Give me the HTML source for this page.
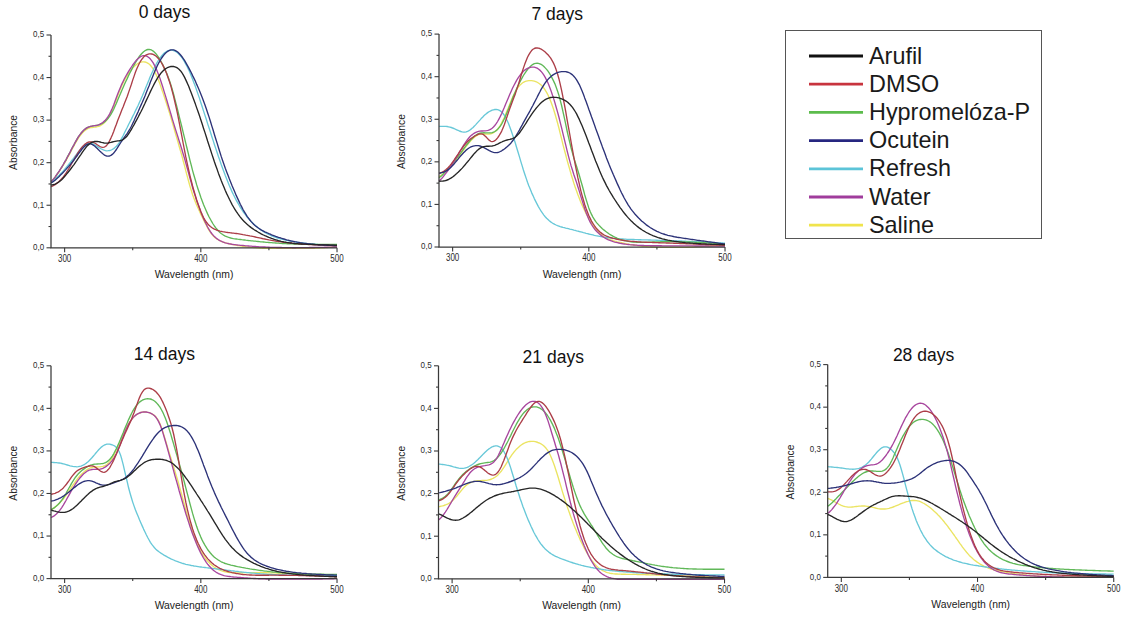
<!DOCTYPE html>
<html><head><meta charset="utf-8"><style>
html,body{margin:0;padding:0;background:#fff;}
body{width:1128px;height:620px;overflow:hidden;}
svg{display:block;font-family:"Liberation Sans", sans-serif;}
</style></head><body>
<svg width="1128" height="620" viewBox="0 0 1128 620">
<rect width="1128" height="620" fill="#fff"/>
<path d="M51.0,181.6 L52.4,180.5 L53.7,179.1 L55.1,177.4 L56.4,175.5 L57.8,173.6 L59.2,171.6 L60.5,169.5 L61.9,167.4 L63.3,165.2 L64.6,162.9 L66.0,160.6 L67.3,158.1 L68.7,155.6 L70.1,153.1 L71.4,150.5 L72.8,147.9 L74.2,145.4 L75.5,143.0 L76.9,140.6 L78.2,138.5 L79.6,136.4 L81.0,134.6 L82.3,133.0 L83.7,131.5 L85.1,130.4 L86.4,129.4 L87.8,128.6 L89.1,128.1 L90.5,127.7 L91.9,127.5 L93.2,127.3 L94.6,127.2 L95.9,127.0 L97.3,126.7 L98.7,126.3 L100.0,125.8 L101.4,125.0 L102.8,124.1 L104.1,122.9 L105.5,121.5 L106.8,119.9 L108.2,117.9 L109.6,115.5 L110.9,112.8 L112.3,109.8 L113.7,106.4 L115.0,102.9 L116.4,99.3 L117.7,95.7 L119.1,92.2 L120.5,88.8 L121.8,85.7 L123.2,82.8 L124.5,80.1 L125.9,77.6 L127.3,75.4 L128.6,73.3 L130.0,71.4 L131.4,69.6 L132.7,68.0 L134.1,66.6 L135.4,65.4 L136.8,64.3 L138.2,63.4 L139.5,62.7 L140.9,62.2 L142.3,61.9 L143.6,61.8 L145.0,62.0 L146.3,62.4 L147.7,63.1 L149.1,64.0 L150.4,65.3 L151.8,67.0 L153.2,69.0 L154.5,71.3 L155.9,74.1 L157.2,77.1 L158.6,80.5 L160.0,84.1 L161.3,88.0 L162.7,91.9 L164.0,95.9 L165.4,100.0 L166.8,104.2 L168.1,108.5 L169.5,112.9 L170.9,117.5 L172.2,122.1 L173.6,126.8 L174.9,131.5 L176.3,136.2 L177.7,141.0 L179.0,145.7 L180.4,150.5 L181.8,155.4 L183.1,160.5 L184.5,165.6 L185.8,170.9 L187.2,176.1 L188.6,181.2 L189.9,186.0 L191.3,190.5 L192.6,194.7 L194.0,198.4 L195.4,201.9 L196.7,205.2 L198.1,208.2 L199.5,211.2 L200.8,214.1 L202.2,217.0 L203.5,219.8 L204.9,222.6 L206.3,225.3 L207.6,227.9 L209.0,230.2 L210.4,232.3 L211.7,234.1 L213.1,235.7 L214.4,237.1 L215.8,238.2 L217.2,239.2 L218.5,240.0 L219.9,240.7 L221.2,241.3 L222.6,241.8 L224.0,242.3 L225.3,242.8 L226.7,243.2 L228.1,243.5 L229.4,243.9 L230.8,244.2 L232.1,244.5 L233.5,244.7 L234.9,245.0 L236.2,245.2 L237.6,245.5 L239.0,245.7 L240.3,245.9 L241.7,246.1 L243.0,246.3 L244.4,246.5 L245.8,246.7 L247.1,246.8 L248.5,247.0 L249.9,247.1 L251.2,247.3 L252.6,247.4 L253.9,247.6 L255.3,247.7 L256.7,247.8 L258.0,247.9 L259.4,248.0 L260.7,248.1 L262.1,248.2 L263.5,248.2 L264.8,248.2 L266.2,248.2 L267.6,248.2 L268.9,248.2 L270.3,248.2 L271.6,248.2 L273.0,248.2 L274.4,248.2 L275.7,248.2 L277.1,248.2 L278.5,248.2 L279.8,248.2 L281.2,248.2 L282.5,248.2 L283.9,248.2 L285.3,248.2 L286.6,248.2 L288.0,248.2 L289.4,248.2 L290.7,248.2 L292.1,248.2 L293.4,248.2 L294.8,248.2 L296.2,248.2 L297.5,248.2 L298.9,248.2 L300.2,248.2 L301.6,248.2 L303.0,248.2 L304.3,248.2 L305.7,248.2 L307.1,248.2 L308.4,248.2 L309.8,248.2 L311.1,248.2 L312.5,248.2 L313.9,248.2 L315.2,248.2 L316.6,248.1 L318.0,248.0 L319.3,248.0 L320.7,247.9 L322.0,247.8 L323.4,247.7 L324.8,247.7 L326.1,247.6 L327.5,247.5 L328.8,247.4 L330.2,247.4 L331.6,247.3 L332.9,247.2 L334.3,247.1 L335.7,247.1 L337.0,247.0" stroke="#ebe462" stroke-width="1.35" fill="none" stroke-linejoin="round"/>
<path d="M51.0,182.1 L52.4,181.3 L53.7,180.3 L55.1,179.2 L56.4,177.9 L57.8,176.6 L59.2,175.2 L60.5,173.8 L61.9,172.4 L63.3,170.9 L64.6,169.4 L66.0,167.8 L67.3,166.2 L68.7,164.5 L70.1,162.8 L71.4,161.0 L72.8,159.3 L74.2,157.5 L75.5,155.7 L76.9,153.9 L78.2,152.1 L79.6,150.4 L81.0,148.8 L82.3,147.3 L83.7,146.0 L85.1,144.9 L86.4,144.1 L87.8,143.5 L89.1,143.3 L90.5,143.3 L91.9,143.6 L93.2,144.1 L94.6,144.8 L95.9,145.6 L97.3,146.5 L98.7,147.4 L100.0,148.2 L101.4,149.0 L102.8,149.7 L104.1,150.2 L105.5,150.6 L106.8,150.8 L108.2,150.7 L109.6,150.5 L110.9,150.1 L112.3,149.5 L113.7,148.6 L115.0,147.6 L116.4,146.3 L117.7,144.7 L119.1,142.8 L120.5,140.6 L121.8,138.1 L123.2,135.5 L124.5,132.8 L125.9,130.0 L127.3,127.3 L128.6,124.5 L130.0,121.8 L131.4,119.1 L132.7,116.4 L134.1,113.7 L135.4,110.9 L136.8,108.1 L138.2,105.2 L139.5,102.3 L140.9,99.3 L142.3,96.1 L143.6,92.9 L145.0,89.6 L146.3,86.3 L147.7,82.9 L149.1,79.6 L150.4,76.3 L151.8,73.2 L153.2,70.2 L154.5,67.3 L155.9,64.7 L157.2,62.3 L158.6,60.0 L160.0,58.0 L161.3,56.3 L162.7,54.7 L164.0,53.3 L165.4,52.2 L166.8,51.3 L168.1,50.7 L169.5,50.3 L170.9,50.1 L172.2,50.2 L173.6,50.5 L174.9,51.0 L176.3,51.8 L177.7,52.9 L179.0,54.2 L180.4,55.7 L181.8,57.4 L183.1,59.4 L184.5,61.6 L185.8,64.1 L187.2,66.7 L188.6,69.6 L189.9,72.6 L191.3,75.9 L192.6,79.3 L194.0,82.9 L195.4,86.6 L196.7,90.4 L198.1,94.4 L199.5,98.4 L200.8,102.5 L202.2,106.7 L203.5,110.9 L204.9,115.1 L206.3,119.3 L207.6,123.6 L209.0,127.8 L210.4,132.0 L211.7,136.2 L213.1,140.4 L214.4,144.5 L215.8,148.6 L217.2,152.7 L218.5,156.7 L219.9,160.6 L221.2,164.5 L222.6,168.3 L224.0,172.0 L225.3,175.6 L226.7,179.1 L228.1,182.5 L229.4,185.8 L230.8,188.9 L232.1,191.9 L233.5,194.8 L234.9,197.5 L236.2,200.1 L237.6,202.6 L239.0,205.0 L240.3,207.3 L241.7,209.4 L243.0,211.5 L244.4,213.4 L245.8,215.2 L247.1,217.0 L248.5,218.6 L249.9,220.2 L251.2,221.6 L252.6,223.0 L253.9,224.3 L255.3,225.5 L256.7,226.7 L258.0,227.8 L259.4,228.8 L260.7,229.8 L262.1,230.7 L263.5,231.6 L264.8,232.4 L266.2,233.1 L267.6,233.9 L268.9,234.5 L270.3,235.2 L271.6,235.8 L273.0,236.3 L274.4,236.9 L275.7,237.4 L277.1,237.8 L278.5,238.3 L279.8,238.7 L281.2,239.1 L282.5,239.4 L283.9,239.7 L285.3,240.1 L286.6,240.4 L288.0,240.6 L289.4,240.9 L290.7,241.2 L292.1,241.4 L293.4,241.6 L294.8,241.8 L296.2,242.1 L297.5,242.3 L298.9,242.5 L300.2,242.6 L301.6,242.8 L303.0,243.0 L304.3,243.1 L305.7,243.3 L307.1,243.5 L308.4,243.6 L309.8,243.7 L311.1,243.9 L312.5,244.0 L313.9,244.1 L315.2,244.2 L316.6,244.3 L318.0,244.5 L319.3,244.6 L320.7,244.7 L322.0,244.8 L323.4,244.8 L324.8,244.9 L326.1,245.0 L327.5,245.1 L328.8,245.2 L330.2,245.3 L331.6,245.4 L332.9,245.4 L334.3,245.5 L335.7,245.6 L337.0,245.6" stroke="#68c8d8" stroke-width="1.35" fill="none" stroke-linejoin="round"/>
<path d="M51.0,181.6 L52.4,180.4 L53.7,178.9 L55.1,177.1 L56.4,175.2 L57.8,173.2 L59.2,171.1 L60.5,169.0 L61.9,166.8 L63.3,164.5 L64.6,162.2 L66.0,159.8 L67.3,157.2 L68.7,154.7 L70.1,152.1 L71.4,149.4 L72.8,146.8 L74.2,144.3 L75.5,141.8 L76.9,139.4 L78.2,137.2 L79.6,135.2 L81.0,133.3 L82.3,131.7 L83.7,130.3 L85.1,129.1 L86.4,128.1 L87.8,127.3 L89.1,126.8 L90.5,126.3 L91.9,126.1 L93.2,125.8 L94.6,125.7 L95.9,125.5 L97.3,125.3 L98.7,124.9 L100.0,124.5 L101.4,123.9 L102.8,123.1 L104.1,122.2 L105.5,121.1 L106.8,119.8 L108.2,118.2 L109.6,116.4 L110.9,114.3 L112.3,111.9 L113.7,109.2 L115.0,106.3 L116.4,103.2 L117.7,100.1 L119.1,96.8 L120.5,93.6 L121.8,90.4 L123.2,87.2 L124.5,84.2 L125.9,81.2 L127.3,78.4 L128.6,75.5 L130.0,72.8 L131.4,70.1 L132.7,67.5 L134.1,65.0 L135.4,62.6 L136.8,60.3 L138.2,58.2 L139.5,56.2 L140.9,54.5 L142.3,53.0 L143.6,51.7 L145.0,50.7 L146.3,50.0 L147.7,49.5 L149.1,49.5 L150.4,49.7 L151.8,50.2 L153.2,51.1 L154.5,52.3 L155.9,53.7 L157.2,55.4 L158.6,57.4 L160.0,59.6 L161.3,62.0 L162.7,64.6 L164.0,67.4 L165.4,70.4 L166.8,73.6 L168.1,77.1 L169.5,80.8 L170.9,84.9 L172.2,89.3 L173.6,94.2 L174.9,99.3 L176.3,104.7 L177.7,110.2 L179.0,115.7 L180.4,121.2 L181.8,126.7 L183.1,132.2 L184.5,137.8 L185.8,143.4 L187.2,149.0 L188.6,154.6 L189.9,160.1 L191.3,165.4 L192.6,170.6 L194.0,175.5 L195.4,180.3 L196.7,184.9 L198.1,189.2 L199.5,193.3 L200.8,197.3 L202.2,201.0 L203.5,204.5 L204.9,207.8 L206.3,211.0 L207.6,213.9 L209.0,216.7 L210.4,219.3 L211.7,221.7 L213.1,224.0 L214.4,226.0 L215.8,227.9 L217.2,229.5 L218.5,231.0 L219.9,232.4 L221.2,233.5 L222.6,234.5 L224.0,235.4 L225.3,236.1 L226.7,236.7 L228.1,237.2 L229.4,237.6 L230.8,238.0 L232.1,238.3 L233.5,238.6 L234.9,238.8 L236.2,239.0 L237.6,239.2 L239.0,239.3 L240.3,239.5 L241.7,239.7 L243.0,239.8 L244.4,240.0 L245.8,240.2 L247.1,240.3 L248.5,240.5 L249.9,240.6 L251.2,240.8 L252.6,240.9 L253.9,241.1 L255.3,241.2 L256.7,241.4 L258.0,241.5 L259.4,241.6 L260.7,241.8 L262.1,241.9 L263.5,242.0 L264.8,242.1 L266.2,242.3 L267.6,242.4 L268.9,242.5 L270.3,242.6 L271.6,242.7 L273.0,242.8 L274.4,242.9 L275.7,243.0 L277.1,243.1 L278.5,243.2 L279.8,243.3 L281.2,243.4 L282.5,243.5 L283.9,243.5 L285.3,243.6 L286.6,243.7 L288.0,243.7 L289.4,243.8 L290.7,243.9 L292.1,243.9 L293.4,244.0 L294.8,244.0 L296.2,244.1 L297.5,244.1 L298.9,244.2 L300.2,244.2 L301.6,244.2 L303.0,244.3 L304.3,244.3 L305.7,244.3 L307.1,244.3 L308.4,244.4 L309.8,244.4 L311.1,244.4 L312.5,244.4 L313.9,244.4 L315.2,244.4 L316.6,244.4 L318.0,244.4 L319.3,244.4 L320.7,244.4 L322.0,244.4 L323.4,244.4 L324.8,244.4 L326.1,244.4 L327.5,244.4 L328.8,244.4 L330.2,244.4 L331.6,244.4 L332.9,244.4 L334.3,244.4 L335.7,244.4 L337.0,244.4" stroke="#60b858" stroke-width="1.35" fill="none" stroke-linejoin="round"/>
<path d="M51.0,181.6 L52.4,180.4 L53.7,178.9 L55.1,177.1 L56.4,175.2 L57.8,173.2 L59.2,171.1 L60.5,169.0 L61.9,166.8 L63.3,164.5 L64.6,162.2 L66.0,159.8 L67.3,157.3 L68.7,154.7 L70.1,152.1 L71.4,149.5 L72.8,146.8 L74.2,144.3 L75.5,141.8 L76.9,139.4 L78.2,137.2 L79.6,135.2 L81.0,133.3 L82.3,131.7 L83.7,130.3 L85.1,129.1 L86.4,128.1 L87.8,127.3 L89.1,126.8 L90.5,126.4 L91.9,126.1 L93.2,125.9 L94.6,125.7 L95.9,125.5 L97.3,125.2 L98.7,124.8 L100.0,124.2 L101.4,123.4 L102.8,122.5 L104.1,121.3 L105.5,120.0 L106.8,118.4 L108.2,116.4 L109.6,114.1 L110.9,111.4 L112.3,108.3 L113.7,104.9 L115.0,101.3 L116.4,97.6 L117.7,94.0 L119.1,90.5 L120.5,87.2 L121.8,84.1 L123.2,81.2 L124.5,78.5 L125.9,76.0 L127.3,73.6 L128.6,71.3 L130.0,69.1 L131.4,67.0 L132.7,65.0 L134.1,63.1 L135.4,61.4 L136.8,59.8 L138.2,58.5 L139.5,57.4 L140.9,56.5 L142.3,55.9 L143.6,55.6 L145.0,55.7 L146.3,56.0 L147.7,56.7 L149.1,57.8 L150.4,59.1 L151.8,60.9 L153.2,62.9 L154.5,65.4 L155.9,68.1 L157.2,71.3 L158.6,74.7 L160.0,78.5 L161.3,82.5 L162.7,86.7 L164.0,91.1 L165.4,95.6 L166.8,100.2 L168.1,104.8 L169.5,109.4 L170.9,114.0 L172.2,118.6 L173.6,123.1 L174.9,127.5 L176.3,131.9 L177.7,136.2 L179.0,140.5 L180.4,144.8 L181.8,149.2 L183.1,153.7 L184.5,158.3 L185.8,163.1 L187.2,168.0 L188.6,173.0 L189.9,178.0 L191.3,182.9 L192.6,187.7 L194.0,192.3 L195.4,196.6 L196.7,200.7 L198.1,204.6 L199.5,208.3 L200.8,211.8 L202.2,215.2 L203.5,218.4 L204.9,221.5 L206.3,224.3 L207.6,227.0 L209.0,229.4 L210.4,231.6 L211.7,233.5 L213.1,235.1 L214.4,236.6 L215.8,237.8 L217.2,238.9 L218.5,239.8 L219.9,240.6 L221.2,241.2 L222.6,241.8 L224.0,242.3 L225.3,242.8 L226.7,243.2 L228.1,243.5 L229.4,243.8 L230.8,244.0 L232.1,244.3 L233.5,244.5 L234.9,244.6 L236.2,244.8 L237.6,245.0 L239.0,245.1 L240.3,245.3 L241.7,245.4 L243.0,245.5 L244.4,245.6 L245.8,245.8 L247.1,245.9 L248.5,246.0 L249.9,246.1 L251.2,246.2 L252.6,246.3 L253.9,246.4 L255.3,246.5 L256.7,246.6 L258.0,246.7 L259.4,246.8 L260.7,246.8 L262.1,246.9 L263.5,247.0 L264.8,247.0 L266.2,247.1 L267.6,247.2 L268.9,247.2 L270.3,247.3 L271.6,247.3 L273.0,247.3 L274.4,247.4 L275.7,247.4 L277.1,247.5 L278.5,247.5 L279.8,247.5 L281.2,247.5 L282.5,247.6 L283.9,247.6 L285.3,247.6 L286.6,247.6 L288.0,247.6 L289.4,247.6 L290.7,247.6 L292.1,247.7 L293.4,247.7 L294.8,247.7 L296.2,247.7 L297.5,247.6 L298.9,247.6 L300.2,247.6 L301.6,247.6 L303.0,247.6 L304.3,247.6 L305.7,247.6 L307.1,247.6 L308.4,247.6 L309.8,247.5 L311.1,247.5 L312.5,247.5 L313.9,247.5 L315.2,247.4 L316.6,247.4 L318.0,247.4 L319.3,247.4 L320.7,247.3 L322.0,247.3 L323.4,247.3 L324.8,247.2 L326.1,247.2 L327.5,247.2 L328.8,247.1 L330.2,247.1 L331.6,247.1 L332.9,247.1 L334.3,247.0 L335.7,247.0 L337.0,247.0" stroke="#a8469e" stroke-width="1.35" fill="none" stroke-linejoin="round"/>
<path d="M51.0,186.7 L52.4,186.1 L53.7,185.4 L55.1,184.6 L56.4,183.6 L57.8,182.5 L59.2,181.3 L60.5,180.0 L61.9,178.5 L63.3,176.9 L64.6,175.1 L66.0,173.1 L67.3,171.0 L68.7,168.8 L70.1,166.4 L71.4,164.0 L72.8,161.6 L74.2,159.2 L75.5,156.8 L76.9,154.5 L78.2,152.3 L79.6,150.3 L81.0,148.5 L82.3,146.8 L83.7,145.4 L85.1,144.1 L86.4,143.2 L87.8,142.4 L89.1,142.0 L90.5,141.8 L91.9,142.0 L93.2,142.4 L94.6,143.0 L95.9,143.8 L97.3,144.8 L98.7,145.7 L100.0,146.5 L101.4,147.1 L102.8,147.3 L104.1,147.2 L105.5,146.5 L106.8,145.2 L108.2,143.3 L109.6,140.9 L110.9,138.1 L112.3,134.9 L113.7,131.4 L115.0,127.8 L116.4,124.2 L117.7,120.5 L119.1,117.0 L120.5,113.5 L121.8,110.1 L123.2,106.7 L124.5,103.3 L125.9,99.8 L127.3,96.2 L128.6,92.4 L130.0,88.4 L131.4,84.3 L132.7,80.1 L134.1,76.1 L135.4,72.3 L136.8,68.8 L138.2,65.7 L139.5,63.0 L140.9,60.7 L142.3,58.7 L143.6,57.1 L145.0,55.8 L146.3,54.9 L147.7,54.3 L149.1,53.9 L150.4,53.8 L151.8,54.0 L153.2,54.4 L154.5,55.1 L155.9,56.0 L157.2,57.2 L158.6,58.7 L160.0,60.5 L161.3,62.5 L162.7,64.9 L164.0,67.6 L165.4,70.6 L166.8,74.0 L168.1,77.7 L169.5,81.8 L170.9,86.2 L172.2,91.1 L173.6,96.3 L174.9,102.0 L176.3,108.1 L177.7,114.6 L179.0,121.4 L180.4,128.5 L181.8,135.8 L183.1,143.0 L184.5,150.1 L185.8,156.9 L187.2,163.4 L188.6,169.6 L189.9,175.3 L191.3,180.8 L192.6,186.0 L194.0,190.9 L195.4,195.6 L196.7,200.0 L198.1,204.2 L199.5,208.0 L200.8,211.5 L202.2,214.7 L203.5,217.5 L204.9,219.9 L206.3,222.0 L207.6,223.7 L209.0,225.2 L210.4,226.5 L211.7,227.5 L213.1,228.4 L214.4,229.1 L215.8,229.7 L217.2,230.3 L218.5,230.7 L219.9,231.1 L221.2,231.4 L222.6,231.7 L224.0,231.9 L225.3,232.1 L226.7,232.3 L228.1,232.5 L229.4,232.6 L230.8,232.8 L232.1,233.0 L233.5,233.1 L234.9,233.3 L236.2,233.5 L237.6,233.7 L239.0,233.9 L240.3,234.1 L241.7,234.3 L243.0,234.6 L244.4,234.8 L245.8,235.1 L247.1,235.3 L248.5,235.6 L249.9,235.9 L251.2,236.1 L252.6,236.4 L253.9,236.7 L255.3,237.0 L256.7,237.3 L258.0,237.6 L259.4,237.9 L260.7,238.2 L262.1,238.5 L263.5,238.8 L264.8,239.0 L266.2,239.3 L267.6,239.6 L268.9,239.9 L270.3,240.1 L271.6,240.4 L273.0,240.6 L274.4,240.8 L275.7,241.1 L277.1,241.3 L278.5,241.5 L279.8,241.7 L281.2,241.9 L282.5,242.1 L283.9,242.3 L285.3,242.4 L286.6,242.6 L288.0,242.8 L289.4,242.9 L290.7,243.0 L292.1,243.2 L293.4,243.3 L294.8,243.5 L296.2,243.6 L297.5,243.7 L298.9,243.8 L300.2,243.9 L301.6,244.0 L303.0,244.1 L304.3,244.2 L305.7,244.3 L307.1,244.4 L308.4,244.5 L309.8,244.6 L311.1,244.6 L312.5,244.7 L313.9,244.8 L315.2,244.8 L316.6,244.9 L318.0,245.0 L319.3,245.0 L320.7,245.1 L322.0,245.1 L323.4,245.2 L324.8,245.2 L326.1,245.3 L327.5,245.3 L328.8,245.4 L330.2,245.4 L331.6,245.5 L332.9,245.5 L334.3,245.6 L335.7,245.6 L337.0,245.6" stroke="#ac3e48" stroke-width="1.35" fill="none" stroke-linejoin="round"/>
<path d="M51.0,183.0 L52.4,182.2 L53.7,181.3 L55.1,180.2 L56.4,179.0 L57.8,177.7 L59.2,176.4 L60.5,175.1 L61.9,173.7 L63.3,172.3 L64.6,170.9 L66.0,169.4 L67.3,167.9 L68.7,166.4 L70.1,164.8 L71.4,163.1 L72.8,161.4 L74.2,159.7 L75.5,157.8 L76.9,156.0 L78.2,154.1 L79.6,152.3 L81.0,150.5 L82.3,148.7 L83.7,147.2 L85.1,145.9 L86.4,144.9 L87.8,144.2 L89.1,143.9 L90.5,143.9 L91.9,144.3 L93.2,145.1 L94.6,146.0 L95.9,147.2 L97.3,148.5 L98.7,149.9 L100.0,151.3 L101.4,152.6 L102.8,153.8 L104.1,154.8 L105.5,155.6 L106.8,156.0 L108.2,156.2 L109.6,156.0 L110.9,155.4 L112.3,154.4 L113.7,153.1 L115.0,151.4 L116.4,149.5 L117.7,147.4 L119.1,145.2 L120.5,143.0 L121.8,141.0 L123.2,139.0 L124.5,137.1 L125.9,135.2 L127.3,133.3 L128.6,131.1 L130.0,128.8 L131.4,126.2 L132.7,123.5 L134.1,120.6 L135.4,117.6 L136.8,114.6 L138.2,111.6 L139.5,108.5 L140.9,105.4 L142.3,102.3 L143.6,99.2 L145.0,95.9 L146.3,92.6 L147.7,89.1 L149.1,85.7 L150.4,82.1 L151.8,78.7 L153.2,75.2 L154.5,72.0 L155.9,68.9 L157.2,65.9 L158.6,63.2 L160.0,60.8 L161.3,58.5 L162.7,56.5 L164.0,54.8 L165.4,53.3 L166.8,52.0 L168.1,51.1 L169.5,50.4 L170.9,49.9 L172.2,49.8 L173.6,49.9 L174.9,50.4 L176.3,51.1 L177.7,52.0 L179.0,53.3 L180.4,54.8 L181.8,56.5 L183.1,58.4 L184.5,60.4 L185.8,62.7 L187.2,65.1 L188.6,67.6 L189.9,70.1 L191.3,72.8 L192.6,75.6 L194.0,78.4 L195.4,81.3 L196.7,84.4 L198.1,87.5 L199.5,90.7 L200.8,94.0 L202.2,97.5 L203.5,101.1 L204.9,104.8 L206.3,108.7 L207.6,112.8 L209.0,116.9 L210.4,121.2 L211.7,125.6 L213.1,130.0 L214.4,134.5 L215.8,139.0 L217.2,143.4 L218.5,147.8 L219.9,152.2 L221.2,156.4 L222.6,160.5 L224.0,164.5 L225.3,168.3 L226.7,172.0 L228.1,175.6 L229.4,179.1 L230.8,182.5 L232.1,185.8 L233.5,189.1 L234.9,192.3 L236.2,195.4 L237.6,198.4 L239.0,201.4 L240.3,204.2 L241.7,206.9 L243.0,209.5 L244.4,211.9 L245.8,214.2 L247.1,216.3 L248.5,218.2 L249.9,220.0 L251.2,221.6 L252.6,223.1 L253.9,224.5 L255.3,225.7 L256.7,226.8 L258.0,227.8 L259.4,228.7 L260.7,229.6 L262.1,230.4 L263.5,231.1 L264.8,231.8 L266.2,232.4 L267.6,233.0 L268.9,233.6 L270.3,234.2 L271.6,234.8 L273.0,235.3 L274.4,235.8 L275.7,236.3 L277.1,236.8 L278.5,237.3 L279.8,237.7 L281.2,238.2 L282.5,238.6 L283.9,239.0 L285.3,239.4 L286.6,239.8 L288.0,240.1 L289.4,240.5 L290.7,240.8 L292.1,241.1 L293.4,241.4 L294.8,241.7 L296.2,241.9 L297.5,242.2 L298.9,242.4 L300.2,242.7 L301.6,242.9 L303.0,243.1 L304.3,243.3 L305.7,243.4 L307.1,243.6 L308.4,243.8 L309.8,243.9 L311.1,244.1 L312.5,244.2 L313.9,244.3 L315.2,244.5 L316.6,244.6 L318.0,244.7 L319.3,244.8 L320.7,244.9 L322.0,244.9 L323.4,245.0 L324.8,245.1 L326.1,245.2 L327.5,245.2 L328.8,245.3 L330.2,245.4 L331.6,245.4 L332.9,245.5 L334.3,245.5 L335.7,245.6 L337.0,245.6" stroke="#2c3278" stroke-width="1.35" fill="none" stroke-linejoin="round"/>
<path d="M51.0,185.0 L52.4,184.8 L53.7,184.5 L55.1,184.1 L56.4,183.5 L57.8,182.7 L59.2,181.8 L60.5,180.7 L61.9,179.4 L63.3,178.0 L64.6,176.5 L66.0,174.9 L67.3,173.2 L68.7,171.5 L70.1,169.8 L71.4,168.0 L72.8,166.1 L74.2,164.3 L75.5,162.3 L76.9,160.4 L78.2,158.3 L79.6,156.3 L81.0,154.3 L82.3,152.3 L83.7,150.4 L85.1,148.6 L86.4,146.9 L87.8,145.4 L89.1,144.2 L90.5,143.2 L91.9,142.4 L93.2,141.8 L94.6,141.5 L95.9,141.4 L97.3,141.5 L98.7,141.7 L100.0,142.0 L101.4,142.4 L102.8,142.7 L104.1,143.0 L105.5,143.1 L106.8,143.1 L108.2,143.0 L109.6,142.7 L110.9,142.4 L112.3,142.0 L113.7,141.6 L115.0,141.3 L116.4,141.1 L117.7,140.9 L119.1,140.8 L120.5,140.5 L121.8,140.1 L123.2,139.5 L124.5,138.5 L125.9,137.3 L127.3,135.7 L128.6,133.8 L130.0,131.7 L131.4,129.4 L132.7,127.0 L134.1,124.6 L135.4,122.1 L136.8,119.6 L138.2,117.0 L139.5,114.4 L140.9,111.8 L142.3,109.0 L143.6,106.2 L145.0,103.3 L146.3,100.4 L147.7,97.5 L149.1,94.5 L150.4,91.6 L151.8,88.8 L153.2,86.0 L154.5,83.4 L155.9,80.9 L157.2,78.6 L158.6,76.4 L160.0,74.5 L161.3,72.7 L162.7,71.2 L164.0,69.9 L165.4,68.9 L166.8,68.0 L168.1,67.3 L169.5,66.8 L170.9,66.5 L172.2,66.4 L173.6,66.5 L174.9,66.8 L176.3,67.4 L177.7,68.2 L179.0,69.3 L180.4,70.7 L181.8,72.5 L183.1,74.7 L184.5,77.1 L185.8,79.9 L187.2,82.9 L188.6,86.1 L189.9,89.5 L191.3,93.0 L192.6,96.6 L194.0,100.3 L195.4,104.1 L196.7,107.9 L198.1,111.8 L199.5,115.8 L200.8,119.8 L202.2,124.0 L203.5,128.2 L204.9,132.4 L206.3,136.7 L207.6,141.0 L209.0,145.2 L210.4,149.5 L211.7,153.6 L213.1,157.8 L214.4,161.8 L215.8,165.8 L217.2,169.6 L218.5,173.4 L219.9,177.1 L221.2,180.6 L222.6,184.0 L224.0,187.3 L225.3,190.5 L226.7,193.6 L228.1,196.5 L229.4,199.3 L230.8,202.0 L232.1,204.6 L233.5,207.0 L234.9,209.3 L236.2,211.4 L237.6,213.4 L239.0,215.3 L240.3,217.1 L241.7,218.8 L243.0,220.3 L244.4,221.7 L245.8,223.1 L247.1,224.3 L248.5,225.5 L249.9,226.6 L251.2,227.6 L252.6,228.6 L253.9,229.5 L255.3,230.4 L256.7,231.2 L258.0,232.0 L259.4,232.8 L260.7,233.6 L262.1,234.3 L263.5,235.0 L264.8,235.6 L266.2,236.2 L267.6,236.8 L268.9,237.4 L270.3,237.9 L271.6,238.4 L273.0,238.9 L274.4,239.4 L275.7,239.8 L277.1,240.2 L278.5,240.6 L279.8,240.9 L281.2,241.3 L282.5,241.6 L283.9,241.9 L285.3,242.1 L286.6,242.4 L288.0,242.6 L289.4,242.8 L290.7,243.0 L292.1,243.2 L293.4,243.3 L294.8,243.5 L296.2,243.6 L297.5,243.7 L298.9,243.8 L300.2,243.9 L301.6,244.0 L303.0,244.1 L304.3,244.1 L305.7,244.2 L307.1,244.3 L308.4,244.3 L309.8,244.4 L311.1,244.4 L312.5,244.5 L313.9,244.5 L315.2,244.6 L316.6,244.6 L318.0,244.7 L319.3,244.7 L320.7,244.8 L322.0,244.8 L323.4,244.9 L324.8,244.9 L326.1,244.9 L327.5,245.0 L328.8,245.0 L330.2,245.1 L331.6,245.1 L332.9,245.1 L334.3,245.2 L335.7,245.2 L337.0,245.2" stroke="#262626" stroke-width="1.35" fill="none" stroke-linejoin="round"/>
<path d="M51.00,35.00 V247.80 H337.02" stroke="#3a3a3a" stroke-width="1.25" fill="none"/>
<path d="M51.00,247.80 H46.50" stroke="#3a3a3a" stroke-width="1.1"/>
<text x="0" y="0" font-size="9.6" text-anchor="end" fill="#2a2a2a" transform="translate(44.20,250.10) scale(0.83,1)">0,0</text>
<path d="M51.00,226.52 H48.50" stroke="#3a3a3a" stroke-width="1.1"/>
<path d="M51.00,205.24 H46.50" stroke="#3a3a3a" stroke-width="1.1"/>
<text x="0" y="0" font-size="9.6" text-anchor="end" fill="#2a2a2a" transform="translate(44.20,207.54) scale(0.83,1)">0,1</text>
<path d="M51.00,183.96 H48.50" stroke="#3a3a3a" stroke-width="1.1"/>
<path d="M51.00,162.68 H46.50" stroke="#3a3a3a" stroke-width="1.1"/>
<text x="0" y="0" font-size="9.6" text-anchor="end" fill="#2a2a2a" transform="translate(44.20,164.98) scale(0.83,1)">0,2</text>
<path d="M51.00,141.40 H48.50" stroke="#3a3a3a" stroke-width="1.1"/>
<path d="M51.00,120.12 H46.50" stroke="#3a3a3a" stroke-width="1.1"/>
<text x="0" y="0" font-size="9.6" text-anchor="end" fill="#2a2a2a" transform="translate(44.20,122.42) scale(0.83,1)">0,3</text>
<path d="M51.00,98.84 H48.50" stroke="#3a3a3a" stroke-width="1.1"/>
<path d="M51.00,77.56 H46.50" stroke="#3a3a3a" stroke-width="1.1"/>
<text x="0" y="0" font-size="9.6" text-anchor="end" fill="#2a2a2a" transform="translate(44.20,79.86) scale(0.83,1)">0,4</text>
<path d="M51.00,56.28 H48.50" stroke="#3a3a3a" stroke-width="1.1"/>
<path d="M51.00,35.00 H46.50" stroke="#3a3a3a" stroke-width="1.1"/>
<text x="0" y="0" font-size="9.6" text-anchor="end" fill="#2a2a2a" transform="translate(44.20,37.30) scale(0.83,1)">0,5</text>
<path d="M64.62,247.80 V252.30" stroke="#3a3a3a" stroke-width="1.1"/>
<text x="0" y="0" font-size="10" text-anchor="middle" fill="#2a2a2a" transform="translate(64.62,262.00) scale(0.8,1)">300</text>
<path d="M132.72,247.80 V250.30" stroke="#3a3a3a" stroke-width="1.1"/>
<path d="M200.82,247.80 V252.30" stroke="#3a3a3a" stroke-width="1.1"/>
<text x="0" y="0" font-size="10" text-anchor="middle" fill="#2a2a2a" transform="translate(200.82,262.00) scale(0.8,1)">400</text>
<path d="M268.92,247.80 V250.30" stroke="#3a3a3a" stroke-width="1.1"/>
<path d="M337.02,247.80 V252.30" stroke="#3a3a3a" stroke-width="1.1"/>
<text x="0" y="0" font-size="10" text-anchor="middle" fill="#2a2a2a" transform="translate(337.02,262.00) scale(0.8,1)">500</text>
<text x="194.01" y="278.30" font-size="10.4" text-anchor="middle" fill="#222">Wavelength (nm)</text>
<text x="0" y="0" font-size="10.3" text-anchor="middle" fill="#222" transform="translate(17.00,142.40) rotate(-90)">Absorbance</text>
<path d="M439.0,176.6 L440.4,175.8 L441.7,174.9 L443.1,173.7 L444.4,172.5 L445.8,171.2 L447.2,169.8 L448.5,168.4 L449.9,167.0 L451.3,165.5 L452.6,164.0 L454.0,162.4 L455.3,160.8 L456.7,159.1 L458.1,157.3 L459.4,155.5 L460.8,153.7 L462.2,151.8 L463.5,150.0 L464.9,148.1 L466.2,146.3 L467.6,144.5 L469.0,142.9 L470.3,141.3 L471.7,139.8 L473.1,138.4 L474.4,137.2 L475.8,136.2 L477.1,135.4 L478.5,134.7 L479.9,134.3 L481.2,134.1 L482.6,134.0 L483.9,134.0 L485.3,134.0 L486.7,134.1 L488.0,134.1 L489.4,134.0 L490.8,133.8 L492.1,133.4 L493.5,132.7 L494.8,131.8 L496.2,130.6 L497.6,129.2 L498.9,127.4 L500.3,125.3 L501.7,122.9 L503.0,120.1 L504.4,117.2 L505.7,114.0 L507.1,110.6 L508.5,107.3 L509.8,103.9 L511.2,100.6 L512.5,97.4 L513.9,94.5 L515.3,91.9 L516.6,89.6 L518.0,87.5 L519.4,85.8 L520.7,84.4 L522.1,83.2 L523.4,82.3 L524.8,81.6 L526.2,81.1 L527.5,80.8 L528.9,80.6 L530.3,80.6 L531.6,80.7 L533.0,80.9 L534.3,81.2 L535.7,81.7 L537.1,82.2 L538.4,83.0 L539.8,84.0 L541.1,85.1 L542.5,86.5 L543.9,88.2 L545.2,90.2 L546.6,92.4 L548.0,95.0 L549.3,97.9 L550.7,101.2 L552.0,104.8 L553.4,108.8 L554.8,113.2 L556.1,117.8 L557.5,122.8 L558.9,128.0 L560.2,133.4 L561.6,138.8 L562.9,144.3 L564.3,149.6 L565.7,154.8 L567.0,159.8 L568.4,164.8 L569.8,169.6 L571.1,174.3 L572.5,178.8 L573.8,183.1 L575.2,187.2 L576.6,191.1 L577.9,194.8 L579.3,198.3 L580.6,201.7 L582.0,204.9 L583.4,207.9 L584.7,210.8 L586.1,213.6 L587.5,216.2 L588.8,218.7 L590.2,221.1 L591.5,223.3 L592.9,225.3 L594.3,227.2 L595.6,229.0 L597.0,230.6 L598.4,232.0 L599.7,233.3 L601.1,234.5 L602.4,235.5 L603.8,236.5 L605.2,237.3 L606.5,238.0 L607.9,238.7 L609.2,239.3 L610.6,239.8 L612.0,240.2 L613.3,240.7 L614.7,241.1 L616.1,241.4 L617.4,241.8 L618.8,242.1 L620.1,242.4 L621.5,242.7 L622.9,243.0 L624.2,243.3 L625.6,243.6 L627.0,243.9 L628.3,244.1 L629.7,244.4 L631.0,244.6 L632.4,244.8 L633.8,245.0 L635.1,245.2 L636.5,245.4 L637.9,245.6 L639.2,245.8 L640.6,246.0 L641.9,246.1 L643.3,246.3 L644.7,246.4 L646.0,246.5 L647.4,246.7 L648.7,246.8 L650.1,246.9 L651.5,247.0 L652.8,247.1 L654.2,247.2 L655.6,247.2 L656.9,247.3 L658.3,247.4 L659.6,247.4 L661.0,247.4 L662.4,247.4 L663.7,247.4 L665.1,247.4 L666.5,247.4 L667.8,247.4 L669.2,247.4 L670.5,247.4 L671.9,247.4 L673.3,247.4 L674.6,247.4 L676.0,247.4 L677.4,247.4 L678.7,247.4 L680.1,247.4 L681.4,247.4 L682.8,247.4 L684.2,247.4 L685.5,247.3 L686.9,247.3 L688.2,247.2 L689.6,247.2 L691.0,247.1 L692.3,247.0 L693.7,247.0 L695.1,246.9 L696.4,246.8 L697.8,246.7 L699.1,246.6 L700.5,246.5 L701.9,246.5 L703.2,246.4 L704.6,246.3 L706.0,246.2 L707.3,246.1 L708.7,246.0 L710.0,245.9 L711.4,245.8 L712.8,245.7 L714.1,245.5 L715.5,245.4 L716.8,245.3 L718.2,245.2 L719.6,245.1 L720.9,245.0 L722.3,244.9 L723.7,244.8 L725.0,244.7" stroke="#ebe462" stroke-width="1.35" fill="none" stroke-linejoin="round"/>
<path d="M439.0,126.3 L440.4,126.3 L441.7,126.3 L443.1,126.3 L444.4,126.3 L445.8,126.4 L447.2,126.5 L448.5,126.8 L449.9,127.1 L451.3,127.5 L452.6,128.0 L454.0,128.5 L455.3,129.2 L456.7,129.8 L458.1,130.4 L459.4,131.0 L460.8,131.5 L462.2,131.9 L463.5,132.1 L464.9,132.1 L466.2,131.8 L467.6,131.3 L469.0,130.6 L470.3,129.7 L471.7,128.6 L473.1,127.4 L474.4,126.1 L475.8,124.6 L477.1,123.1 L478.5,121.6 L479.9,120.1 L481.2,118.6 L482.6,117.2 L483.9,115.8 L485.3,114.6 L486.7,113.4 L488.0,112.4 L489.4,111.5 L490.8,110.8 L492.1,110.2 L493.5,109.8 L494.8,109.5 L496.2,109.5 L497.6,109.7 L498.9,110.2 L500.3,110.9 L501.7,112.0 L503.0,113.5 L504.4,115.4 L505.7,117.8 L507.1,120.5 L508.5,123.5 L509.8,127.0 L511.2,130.7 L512.5,134.6 L513.9,138.7 L515.3,143.0 L516.6,147.5 L518.0,152.0 L519.4,156.6 L520.7,161.1 L522.1,165.6 L523.4,170.0 L524.8,174.3 L526.2,178.4 L527.5,182.2 L528.9,185.9 L530.3,189.3 L531.6,192.6 L533.0,195.6 L534.3,198.6 L535.7,201.4 L537.1,204.1 L538.4,206.6 L539.8,209.0 L541.1,211.2 L542.5,213.2 L543.9,215.1 L545.2,216.7 L546.6,218.3 L548.0,219.6 L549.3,220.8 L550.7,221.9 L552.0,222.8 L553.4,223.7 L554.8,224.4 L556.1,225.0 L557.5,225.6 L558.9,226.1 L560.2,226.6 L561.6,227.0 L562.9,227.4 L564.3,227.7 L565.7,228.1 L567.0,228.4 L568.4,228.7 L569.8,229.1 L571.1,229.4 L572.5,229.7 L573.8,230.1 L575.2,230.4 L576.6,230.8 L577.9,231.1 L579.3,231.5 L580.6,231.8 L582.0,232.2 L583.4,232.6 L584.7,232.9 L586.1,233.3 L587.5,233.6 L588.8,234.0 L590.2,234.3 L591.5,234.6 L592.9,234.9 L594.3,235.3 L595.6,235.6 L597.0,235.8 L598.4,236.1 L599.7,236.4 L601.1,236.6 L602.4,236.9 L603.8,237.1 L605.2,237.3 L606.5,237.5 L607.9,237.7 L609.2,237.8 L610.6,238.0 L612.0,238.2 L613.3,238.3 L614.7,238.4 L616.1,238.6 L617.4,238.7 L618.8,238.8 L620.1,238.9 L621.5,239.0 L622.9,239.0 L624.2,239.1 L625.6,239.2 L627.0,239.3 L628.3,239.3 L629.7,239.4 L631.0,239.4 L632.4,239.5 L633.8,239.5 L635.1,239.6 L636.5,239.6 L637.9,239.7 L639.2,239.7 L640.6,239.7 L641.9,239.8 L643.3,239.8 L644.7,239.9 L646.0,239.9 L647.4,239.9 L648.7,240.0 L650.1,240.0 L651.5,240.1 L652.8,240.1 L654.2,240.1 L655.6,240.2 L656.9,240.2 L658.3,240.3 L659.6,240.3 L661.0,240.3 L662.4,240.4 L663.7,240.4 L665.1,240.5 L666.5,240.5 L667.8,240.6 L669.2,240.6 L670.5,240.6 L671.9,240.7 L673.3,240.7 L674.6,240.8 L676.0,240.8 L677.4,240.9 L678.7,240.9 L680.1,241.0 L681.4,241.0 L682.8,241.1 L684.2,241.1 L685.5,241.2 L686.9,241.3 L688.2,241.3 L689.6,241.4 L691.0,241.4 L692.3,241.5 L693.7,241.6 L695.1,241.6 L696.4,241.7 L697.8,241.8 L699.1,241.8 L700.5,241.9 L701.9,242.0 L703.2,242.0 L704.6,242.1 L706.0,242.2 L707.3,242.2 L708.7,242.3 L710.0,242.4 L711.4,242.4 L712.8,242.5 L714.1,242.6 L715.5,242.7 L716.8,242.7 L718.2,242.8 L719.6,242.9 L720.9,242.9 L722.3,243.0 L723.7,243.1 L725.0,243.1" stroke="#68c8d8" stroke-width="1.35" fill="none" stroke-linejoin="round"/>
<path d="M439.0,177.7 L440.4,176.8 L441.7,175.7 L443.1,174.3 L444.4,172.9 L445.8,171.4 L447.2,169.9 L448.5,168.3 L449.9,166.7 L451.3,165.1 L452.6,163.4 L454.0,161.7 L455.3,160.0 L456.7,158.2 L458.1,156.4 L459.4,154.6 L460.8,152.8 L462.2,150.9 L463.5,149.0 L464.9,147.2 L466.2,145.4 L467.6,143.7 L469.0,142.0 L470.3,140.4 L471.7,138.9 L473.1,137.5 L474.4,136.3 L475.8,135.2 L477.1,134.4 L478.5,133.7 L479.9,133.2 L481.2,132.9 L482.6,132.8 L483.9,132.7 L485.3,132.8 L486.7,132.9 L488.0,132.9 L489.4,132.9 L490.8,132.8 L492.1,132.6 L493.5,132.1 L494.8,131.5 L496.2,130.6 L497.6,129.4 L498.9,127.9 L500.3,126.1 L501.7,124.0 L503.0,121.5 L504.4,118.7 L505.7,115.7 L507.1,112.4 L508.5,108.9 L509.8,105.4 L511.2,101.9 L512.5,98.4 L513.9,95.1 L515.3,91.9 L516.6,88.8 L518.0,85.8 L519.4,83.0 L520.7,80.4 L522.1,77.9 L523.4,75.5 L524.8,73.3 L526.2,71.3 L527.5,69.5 L528.9,67.9 L530.3,66.4 L531.6,65.3 L533.0,64.4 L534.3,63.7 L535.7,63.3 L537.1,63.2 L538.4,63.3 L539.8,63.8 L541.1,64.4 L542.5,65.3 L543.9,66.5 L545.2,67.9 L546.6,69.4 L548.0,71.2 L549.3,73.2 L550.7,75.4 L552.0,77.9 L553.4,80.6 L554.8,83.6 L556.1,87.0 L557.5,90.9 L558.9,95.2 L560.2,100.1 L561.6,105.5 L562.9,111.4 L564.3,117.7 L565.7,124.1 L567.0,130.5 L568.4,136.7 L569.8,142.6 L571.1,148.0 L572.5,153.0 L573.8,157.7 L575.2,162.1 L576.6,166.5 L577.9,170.8 L579.3,175.3 L580.6,180.0 L582.0,184.8 L583.4,189.8 L584.7,194.7 L586.1,199.4 L587.5,203.9 L588.8,207.9 L590.2,211.4 L591.5,214.4 L592.9,217.1 L594.3,219.3 L595.6,221.3 L597.0,223.1 L598.4,224.6 L599.7,226.1 L601.1,227.4 L602.4,228.7 L603.8,229.9 L605.2,231.0 L606.5,232.0 L607.9,233.0 L609.2,234.0 L610.6,234.8 L612.0,235.6 L613.3,236.4 L614.7,237.1 L616.1,237.7 L617.4,238.3 L618.8,238.9 L620.1,239.4 L621.5,239.8 L622.9,240.2 L624.2,240.6 L625.6,240.9 L627.0,241.2 L628.3,241.4 L629.7,241.6 L631.0,241.8 L632.4,242.0 L633.8,242.1 L635.1,242.2 L636.5,242.3 L637.9,242.3 L639.2,242.3 L640.6,242.4 L641.9,242.3 L643.3,242.3 L644.7,242.3 L646.0,242.3 L647.4,242.2 L648.7,242.2 L650.1,242.1 L651.5,242.1 L652.8,242.0 L654.2,241.9 L655.6,241.9 L656.9,241.8 L658.3,241.8 L659.6,241.8 L661.0,241.7 L662.4,241.7 L663.7,241.7 L665.1,241.6 L666.5,241.6 L667.8,241.6 L669.2,241.6 L670.5,241.6 L671.9,241.6 L673.3,241.6 L674.6,241.6 L676.0,241.7 L677.4,241.7 L678.7,241.7 L680.1,241.7 L681.4,241.8 L682.8,241.8 L684.2,241.8 L685.5,241.9 L686.9,241.9 L688.2,242.0 L689.6,242.0 L691.0,242.1 L692.3,242.1 L693.7,242.2 L695.1,242.3 L696.4,242.3 L697.8,242.4 L699.1,242.4 L700.5,242.5 L701.9,242.6 L703.2,242.7 L704.6,242.7 L706.0,242.8 L707.3,242.9 L708.7,243.0 L710.0,243.1 L711.4,243.1 L712.8,243.2 L714.1,243.3 L715.5,243.4 L716.8,243.5 L718.2,243.6 L719.6,243.7 L720.9,243.7 L722.3,243.8 L723.7,243.9 L725.0,243.9" stroke="#60b858" stroke-width="1.35" fill="none" stroke-linejoin="round"/>
<path d="M439.0,180.9 L440.4,179.8 L441.7,178.5 L443.1,176.9 L444.4,175.1 L445.8,173.3 L447.2,171.5 L448.5,169.6 L449.9,167.6 L451.3,165.6 L452.6,163.5 L454.0,161.4 L455.3,159.2 L456.7,156.9 L458.1,154.6 L459.4,152.3 L460.8,149.9 L462.2,147.6 L463.5,145.4 L464.9,143.3 L466.2,141.3 L467.6,139.5 L469.0,137.8 L470.3,136.3 L471.7,135.1 L473.1,134.0 L474.4,133.1 L475.8,132.4 L477.1,131.8 L478.5,131.4 L479.9,131.2 L481.2,131.0 L482.6,131.0 L483.9,130.9 L485.3,130.8 L486.7,130.7 L488.0,130.4 L489.4,129.9 L490.8,129.2 L492.1,128.3 L493.5,127.0 L494.8,125.5 L496.2,123.7 L497.6,121.5 L498.9,119.1 L500.3,116.4 L501.7,113.5 L503.0,110.4 L504.4,107.2 L505.7,103.9 L507.1,100.7 L508.5,97.4 L509.8,94.3 L511.2,91.2 L512.5,88.3 L513.9,85.5 L515.3,82.9 L516.6,80.4 L518.0,78.2 L519.4,76.1 L520.7,74.3 L522.1,72.7 L523.4,71.3 L524.8,70.1 L526.2,69.1 L527.5,68.4 L528.9,67.8 L530.3,67.3 L531.6,67.1 L533.0,67.1 L534.3,67.2 L535.7,67.6 L537.1,68.1 L538.4,69.0 L539.8,70.1 L541.1,71.4 L542.5,73.1 L543.9,75.1 L545.2,77.4 L546.6,80.1 L548.0,83.0 L549.3,86.3 L550.7,89.9 L552.0,93.8 L553.4,97.9 L554.8,102.4 L556.1,107.0 L557.5,111.9 L558.9,117.0 L560.2,122.3 L561.6,127.8 L562.9,133.4 L564.3,139.1 L565.7,144.8 L567.0,150.4 L568.4,155.9 L569.8,161.1 L571.1,165.9 L572.5,170.3 L573.8,174.5 L575.2,178.5 L576.6,182.6 L577.9,186.7 L579.3,191.1 L580.6,195.6 L582.0,200.1 L583.4,204.6 L584.7,208.8 L586.1,212.6 L587.5,216.1 L588.8,219.3 L590.2,222.1 L591.5,224.5 L592.9,226.7 L594.3,228.6 L595.6,230.3 L597.0,231.8 L598.4,233.1 L599.7,234.3 L601.1,235.4 L602.4,236.4 L603.8,237.3 L605.2,238.2 L606.5,238.9 L607.9,239.6 L609.2,240.2 L610.6,240.7 L612.0,241.2 L613.3,241.7 L614.7,242.1 L616.1,242.4 L617.4,242.7 L618.8,243.0 L620.1,243.3 L621.5,243.5 L622.9,243.8 L624.2,244.0 L625.6,244.2 L627.0,244.3 L628.3,244.5 L629.7,244.7 L631.0,244.8 L632.4,244.9 L633.8,245.0 L635.1,245.1 L636.5,245.2 L637.9,245.3 L639.2,245.4 L640.6,245.4 L641.9,245.5 L643.3,245.5 L644.7,245.6 L646.0,245.6 L647.4,245.6 L648.7,245.6 L650.1,245.7 L651.5,245.7 L652.8,245.7 L654.2,245.7 L655.6,245.7 L656.9,245.7 L658.3,245.7 L659.6,245.7 L661.0,245.7 L662.4,245.8 L663.7,245.8 L665.1,245.8 L666.5,245.8 L667.8,245.8 L669.2,245.8 L670.5,245.8 L671.9,245.8 L673.3,245.8 L674.6,245.8 L676.0,245.8 L677.4,245.8 L678.7,245.9 L680.1,245.9 L681.4,245.9 L682.8,245.9 L684.2,245.9 L685.5,245.9 L686.9,245.9 L688.2,245.9 L689.6,245.9 L691.0,245.9 L692.3,245.9 L693.7,245.9 L695.1,246.0 L696.4,246.0 L697.8,246.0 L699.1,246.0 L700.5,246.0 L701.9,246.0 L703.2,246.0 L704.6,246.0 L706.0,246.0 L707.3,246.0 L708.7,246.0 L710.0,246.1 L711.4,246.1 L712.8,246.1 L714.1,246.1 L715.5,246.1 L716.8,246.1 L718.2,246.1 L719.6,246.1 L720.9,246.1 L722.3,246.1 L723.7,246.1 L725.0,246.1" stroke="#a8469e" stroke-width="1.35" fill="none" stroke-linejoin="round"/>
<path d="M439.0,173.3 L440.4,172.9 L441.7,172.4 L443.1,171.7 L444.4,170.9 L445.8,169.8 L447.2,168.6 L448.5,167.2 L449.9,165.6 L451.3,163.9 L452.6,162.1 L454.0,160.1 L455.3,158.1 L456.7,156.1 L458.1,154.1 L459.4,152.0 L460.8,150.1 L462.2,148.1 L463.5,146.3 L464.9,144.6 L466.2,143.0 L467.6,141.5 L469.0,140.2 L470.3,139.1 L471.7,138.0 L473.1,137.1 L474.4,136.2 L475.8,135.5 L477.1,134.8 L478.5,134.2 L479.9,133.8 L481.2,133.8 L482.6,134.1 L483.9,134.9 L485.3,136.2 L486.7,137.6 L488.0,139.1 L489.4,140.4 L490.8,141.3 L492.1,141.6 L493.5,141.4 L494.8,140.7 L496.2,139.5 L497.6,137.9 L498.9,136.0 L500.3,133.7 L501.7,131.1 L503.0,128.0 L504.4,124.5 L505.7,120.6 L507.1,116.5 L508.5,112.4 L509.8,108.5 L511.2,104.7 L512.5,101.2 L513.9,97.6 L515.3,93.9 L516.6,89.9 L518.0,85.6 L519.4,81.2 L520.7,76.8 L522.1,72.3 L523.4,68.1 L524.8,64.1 L526.2,60.5 L527.5,57.3 L528.9,54.6 L530.3,52.3 L531.6,50.6 L533.0,49.3 L534.3,48.5 L535.7,48.0 L537.1,47.9 L538.4,48.1 L539.8,48.5 L541.1,49.1 L542.5,50.0 L543.9,51.0 L545.2,52.1 L546.6,53.4 L548.0,54.8 L549.3,56.4 L550.7,58.2 L552.0,60.4 L553.4,62.9 L554.8,66.0 L556.1,69.6 L557.5,73.8 L558.9,78.7 L560.2,84.2 L561.6,90.3 L562.9,96.9 L564.3,104.0 L565.7,111.4 L567.0,119.1 L568.4,126.8 L569.8,134.5 L571.1,142.2 L572.5,149.8 L573.8,157.2 L575.2,164.4 L576.6,171.3 L577.9,177.9 L579.3,184.0 L580.6,189.8 L582.0,195.1 L583.4,200.0 L584.7,204.5 L586.1,208.5 L587.5,212.2 L588.8,215.5 L590.2,218.4 L591.5,221.1 L592.9,223.4 L594.3,225.5 L595.6,227.4 L597.0,229.0 L598.4,230.5 L599.7,231.8 L601.1,232.9 L602.4,233.9 L603.8,234.8 L605.2,235.5 L606.5,236.2 L607.9,236.7 L609.2,237.2 L610.6,237.6 L612.0,238.0 L613.3,238.4 L614.7,238.7 L616.1,239.0 L617.4,239.3 L618.8,239.6 L620.1,239.8 L621.5,240.0 L622.9,240.3 L624.2,240.5 L625.6,240.7 L627.0,240.8 L628.3,241.0 L629.7,241.1 L631.0,241.3 L632.4,241.4 L633.8,241.5 L635.1,241.6 L636.5,241.7 L637.9,241.8 L639.2,241.9 L640.6,242.0 L641.9,242.1 L643.3,242.1 L644.7,242.2 L646.0,242.2 L647.4,242.3 L648.7,242.3 L650.1,242.4 L651.5,242.4 L652.8,242.5 L654.2,242.5 L655.6,242.6 L656.9,242.6 L658.3,242.7 L659.6,242.7 L661.0,242.8 L662.4,242.8 L663.7,242.9 L665.1,242.9 L666.5,243.0 L667.8,243.0 L669.2,243.0 L670.5,243.1 L671.9,243.1 L673.3,243.2 L674.6,243.2 L676.0,243.3 L677.4,243.4 L678.7,243.4 L680.1,243.5 L681.4,243.5 L682.8,243.6 L684.2,243.6 L685.5,243.7 L686.9,243.7 L688.2,243.8 L689.6,243.8 L691.0,243.9 L692.3,243.9 L693.7,244.0 L695.1,244.0 L696.4,244.1 L697.8,244.2 L699.1,244.2 L700.5,244.3 L701.9,244.3 L703.2,244.4 L704.6,244.4 L706.0,244.5 L707.3,244.6 L708.7,244.6 L710.0,244.7 L711.4,244.7 L712.8,244.8 L714.1,244.8 L715.5,244.9 L716.8,245.0 L718.2,245.0 L719.6,245.1 L720.9,245.1 L722.3,245.2 L723.7,245.2 L725.0,245.3" stroke="#ac3e48" stroke-width="1.35" fill="none" stroke-linejoin="round"/>
<path d="M439.0,173.2 L440.4,173.0 L441.7,172.7 L443.1,172.4 L444.4,171.9 L445.8,171.2 L447.2,170.4 L448.5,169.4 L449.9,168.2 L451.3,166.9 L452.6,165.5 L454.0,164.0 L455.3,162.4 L456.7,160.7 L458.1,159.1 L459.4,157.4 L460.8,155.8 L462.2,154.3 L463.5,152.8 L464.9,151.4 L466.2,150.1 L467.6,149.0 L469.0,148.0 L470.3,147.2 L471.7,146.6 L473.1,146.1 L474.4,145.8 L475.8,145.6 L477.1,145.6 L478.5,145.7 L479.9,146.0 L481.2,146.4 L482.6,147.0 L483.9,147.6 L485.3,148.3 L486.7,149.1 L488.0,149.8 L489.4,150.6 L490.8,151.3 L492.1,151.9 L493.5,152.3 L494.8,152.6 L496.2,152.6 L497.6,152.5 L498.9,152.1 L500.3,151.5 L501.7,150.8 L503.0,149.9 L504.4,149.0 L505.7,147.9 L507.1,146.8 L508.5,145.5 L509.8,144.2 L511.2,142.7 L512.5,141.0 L513.9,139.1 L515.3,137.1 L516.6,134.9 L518.0,132.5 L519.4,130.1 L520.7,127.6 L522.1,125.1 L523.4,122.6 L524.8,120.2 L526.2,117.7 L527.5,115.3 L528.9,112.8 L530.3,110.3 L531.6,107.8 L533.0,105.2 L534.3,102.6 L535.7,100.0 L537.1,97.3 L538.4,94.6 L539.8,92.0 L541.1,89.4 L542.5,87.1 L543.9,84.9 L545.2,82.9 L546.6,81.0 L548.0,79.4 L549.3,78.0 L550.7,76.7 L552.0,75.6 L553.4,74.6 L554.8,73.8 L556.1,73.2 L557.5,72.6 L558.9,72.2 L560.2,71.9 L561.6,71.7 L562.9,71.6 L564.3,71.6 L565.7,71.7 L567.0,72.0 L568.4,72.4 L569.8,73.0 L571.1,73.9 L572.5,74.9 L573.8,76.3 L575.2,77.9 L576.6,79.8 L577.9,82.1 L579.3,84.6 L580.6,87.6 L582.0,90.8 L583.4,94.2 L584.7,97.9 L586.1,101.6 L587.5,105.4 L588.8,109.2 L590.2,113.0 L591.5,116.8 L592.9,120.6 L594.3,124.4 L595.6,128.2 L597.0,131.9 L598.4,135.7 L599.7,139.5 L601.1,143.2 L602.4,146.9 L603.8,150.6 L605.2,154.3 L606.5,157.9 L607.9,161.4 L609.2,164.8 L610.6,168.2 L612.0,171.4 L613.3,174.6 L614.7,177.8 L616.1,180.9 L617.4,183.9 L618.8,186.9 L620.1,189.8 L621.5,192.7 L622.9,195.4 L624.2,198.0 L625.6,200.5 L627.0,202.9 L628.3,205.1 L629.7,207.1 L631.0,209.1 L632.4,210.9 L633.8,212.6 L635.1,214.2 L636.5,215.7 L637.9,217.2 L639.2,218.6 L640.6,219.9 L641.9,221.2 L643.3,222.3 L644.7,223.5 L646.0,224.6 L647.4,225.6 L648.7,226.5 L650.1,227.5 L651.5,228.3 L652.8,229.1 L654.2,229.9 L655.6,230.6 L656.9,231.3 L658.3,231.9 L659.6,232.5 L661.0,233.1 L662.4,233.6 L663.7,234.0 L665.1,234.5 L666.5,234.9 L667.8,235.3 L669.2,235.6 L670.5,235.9 L671.9,236.2 L673.3,236.5 L674.6,236.8 L676.0,237.0 L677.4,237.3 L678.7,237.5 L680.1,237.7 L681.4,237.9 L682.8,238.1 L684.2,238.3 L685.5,238.5 L686.9,238.7 L688.2,238.9 L689.6,239.1 L691.0,239.3 L692.3,239.5 L693.7,239.7 L695.1,239.9 L696.4,240.1 L697.8,240.3 L699.1,240.5 L700.5,240.7 L701.9,240.9 L703.2,241.0 L704.6,241.2 L706.0,241.4 L707.3,241.6 L708.7,241.8 L710.0,242.0 L711.4,242.2 L712.8,242.4 L714.1,242.5 L715.5,242.7 L716.8,242.9 L718.2,243.1 L719.6,243.3 L720.9,243.5 L722.3,243.6 L723.7,243.8 L725.0,243.9" stroke="#2c3278" stroke-width="1.35" fill="none" stroke-linejoin="round"/>
<path d="M439.0,181.2 L440.4,181.2 L441.7,181.1 L443.1,181.0 L444.4,180.8 L445.8,180.5 L447.2,180.0 L448.5,179.5 L449.9,178.7 L451.3,177.9 L452.6,177.0 L454.0,175.9 L455.3,174.8 L456.7,173.6 L458.1,172.3 L459.4,171.0 L460.8,169.6 L462.2,168.1 L463.5,166.6 L464.9,165.0 L466.2,163.4 L467.6,161.8 L469.0,160.1 L470.3,158.4 L471.7,156.7 L473.1,155.0 L474.4,153.4 L475.8,152.0 L477.1,150.6 L478.5,149.4 L479.9,148.4 L481.2,147.6 L482.6,147.0 L483.9,146.6 L485.3,146.4 L486.7,146.2 L488.0,146.2 L489.4,146.2 L490.8,146.1 L492.1,146.0 L493.5,145.7 L494.8,145.3 L496.2,144.7 L497.6,144.1 L498.9,143.4 L500.3,142.7 L501.7,142.0 L503.0,141.3 L504.4,140.8 L505.7,140.4 L507.1,140.0 L508.5,139.7 L509.8,139.4 L511.2,139.0 L512.5,138.6 L513.9,137.9 L515.3,137.1 L516.6,135.9 L518.0,134.6 L519.4,133.0 L520.7,131.2 L522.1,129.2 L523.4,127.2 L524.8,125.0 L526.2,122.8 L527.5,120.7 L528.9,118.5 L530.3,116.4 L531.6,114.4 L533.0,112.4 L534.3,110.6 L535.7,108.8 L537.1,107.1 L538.4,105.6 L539.8,104.1 L541.1,102.8 L542.5,101.6 L543.9,100.5 L545.2,99.6 L546.6,98.9 L548.0,98.3 L549.3,97.8 L550.7,97.5 L552.0,97.3 L553.4,97.2 L554.8,97.3 L556.1,97.4 L557.5,97.6 L558.9,97.9 L560.2,98.3 L561.6,98.8 L562.9,99.4 L564.3,100.1 L565.7,100.9 L567.0,101.8 L568.4,102.9 L569.8,104.2 L571.1,105.7 L572.5,107.4 L573.8,109.3 L575.2,111.5 L576.6,113.9 L577.9,116.6 L579.3,119.4 L580.6,122.4 L582.0,125.6 L583.4,128.9 L584.7,132.3 L586.1,135.8 L587.5,139.4 L588.8,143.0 L590.2,146.6 L591.5,150.2 L592.9,153.8 L594.3,157.4 L595.6,160.9 L597.0,164.3 L598.4,167.7 L599.7,171.0 L601.1,174.2 L602.4,177.2 L603.8,180.1 L605.2,182.9 L606.5,185.6 L607.9,188.1 L609.2,190.5 L610.6,192.9 L612.0,195.1 L613.3,197.3 L614.7,199.5 L616.1,201.6 L617.4,203.6 L618.8,205.6 L620.1,207.6 L621.5,209.4 L622.9,211.3 L624.2,213.0 L625.6,214.7 L627.0,216.4 L628.3,217.9 L629.7,219.4 L631.0,220.8 L632.4,222.1 L633.8,223.4 L635.1,224.6 L636.5,225.8 L637.9,226.9 L639.2,227.9 L640.6,228.9 L641.9,229.8 L643.3,230.7 L644.7,231.5 L646.0,232.3 L647.4,233.0 L648.7,233.7 L650.1,234.4 L651.5,235.0 L652.8,235.6 L654.2,236.1 L655.6,236.6 L656.9,237.1 L658.3,237.6 L659.6,238.0 L661.0,238.4 L662.4,238.8 L663.7,239.1 L665.1,239.5 L666.5,239.8 L667.8,240.1 L669.2,240.3 L670.5,240.6 L671.9,240.9 L673.3,241.1 L674.6,241.3 L676.0,241.5 L677.4,241.7 L678.7,241.9 L680.1,242.1 L681.4,242.2 L682.8,242.4 L684.2,242.5 L685.5,242.7 L686.9,242.8 L688.2,242.9 L689.6,243.0 L691.0,243.1 L692.3,243.2 L693.7,243.3 L695.1,243.4 L696.4,243.5 L697.8,243.6 L699.1,243.7 L700.5,243.7 L701.9,243.8 L703.2,243.9 L704.6,243.9 L706.0,244.0 L707.3,244.1 L708.7,244.1 L710.0,244.2 L711.4,244.2 L712.8,244.3 L714.1,244.3 L715.5,244.4 L716.8,244.4 L718.2,244.4 L719.6,244.5 L720.9,244.5 L722.3,244.6 L723.7,244.6 L725.0,244.6" stroke="#262626" stroke-width="1.35" fill="none" stroke-linejoin="round"/>
<path d="M439.00,34.10 V247.00 H725.02" stroke="#3a3a3a" stroke-width="1.25" fill="none"/>
<path d="M439.00,247.00 H434.50" stroke="#3a3a3a" stroke-width="1.1"/>
<text x="0" y="0" font-size="9.6" text-anchor="end" fill="#2a2a2a" transform="translate(432.20,249.30) scale(0.83,1)">0,0</text>
<path d="M439.00,225.71 H436.50" stroke="#3a3a3a" stroke-width="1.1"/>
<path d="M439.00,204.42 H434.50" stroke="#3a3a3a" stroke-width="1.1"/>
<text x="0" y="0" font-size="9.6" text-anchor="end" fill="#2a2a2a" transform="translate(432.20,206.72) scale(0.83,1)">0,1</text>
<path d="M439.00,183.13 H436.50" stroke="#3a3a3a" stroke-width="1.1"/>
<path d="M439.00,161.84 H434.50" stroke="#3a3a3a" stroke-width="1.1"/>
<text x="0" y="0" font-size="9.6" text-anchor="end" fill="#2a2a2a" transform="translate(432.20,164.14) scale(0.83,1)">0,2</text>
<path d="M439.00,140.55 H436.50" stroke="#3a3a3a" stroke-width="1.1"/>
<path d="M439.00,119.26 H434.50" stroke="#3a3a3a" stroke-width="1.1"/>
<text x="0" y="0" font-size="9.6" text-anchor="end" fill="#2a2a2a" transform="translate(432.20,121.56) scale(0.83,1)">0,3</text>
<path d="M439.00,97.97 H436.50" stroke="#3a3a3a" stroke-width="1.1"/>
<path d="M439.00,76.68 H434.50" stroke="#3a3a3a" stroke-width="1.1"/>
<text x="0" y="0" font-size="9.6" text-anchor="end" fill="#2a2a2a" transform="translate(432.20,78.98) scale(0.83,1)">0,4</text>
<path d="M439.00,55.39 H436.50" stroke="#3a3a3a" stroke-width="1.1"/>
<path d="M439.00,34.10 H434.50" stroke="#3a3a3a" stroke-width="1.1"/>
<text x="0" y="0" font-size="9.6" text-anchor="end" fill="#2a2a2a" transform="translate(432.20,36.40) scale(0.83,1)">0,5</text>
<path d="M452.62,247.00 V251.50" stroke="#3a3a3a" stroke-width="1.1"/>
<text x="0" y="0" font-size="10" text-anchor="middle" fill="#2a2a2a" transform="translate(452.62,261.20) scale(0.8,1)">300</text>
<path d="M520.72,247.00 V249.50" stroke="#3a3a3a" stroke-width="1.1"/>
<path d="M588.82,247.00 V251.50" stroke="#3a3a3a" stroke-width="1.1"/>
<text x="0" y="0" font-size="10" text-anchor="middle" fill="#2a2a2a" transform="translate(588.82,261.20) scale(0.8,1)">400</text>
<path d="M656.92,247.00 V249.50" stroke="#3a3a3a" stroke-width="1.1"/>
<path d="M725.02,247.00 V251.50" stroke="#3a3a3a" stroke-width="1.1"/>
<text x="0" y="0" font-size="10" text-anchor="middle" fill="#2a2a2a" transform="translate(725.02,261.20) scale(0.8,1)">500</text>
<text x="582.01" y="277.50" font-size="10.4" text-anchor="middle" fill="#222">Wavelength (nm)</text>
<text x="0" y="0" font-size="10.3" text-anchor="middle" fill="#222" transform="translate(405.00,141.55) rotate(-90)">Absorbance</text>
<path d="M51.0,509.5 L52.4,508.9 L53.7,508.1 L55.1,507.1 L56.4,506.0 L57.8,504.8 L59.2,503.5 L60.5,502.1 L61.9,500.6 L63.3,499.0 L64.6,497.2 L66.0,495.4 L67.3,493.4 L68.7,491.4 L70.1,489.3 L71.4,487.3 L72.8,485.2 L74.2,483.3 L75.5,481.4 L76.9,479.6 L78.2,477.9 L79.6,476.3 L81.0,474.8 L82.3,473.4 L83.7,472.2 L85.1,471.1 L86.4,470.1 L87.8,469.2 L89.1,468.5 L90.5,467.9 L91.9,467.5 L93.2,467.2 L94.6,467.0 L95.9,466.9 L97.3,466.8 L98.7,466.8 L100.0,466.8 L101.4,466.6 L102.8,466.4 L104.1,466.0 L105.5,465.4 L106.8,464.5 L108.2,463.4 L109.6,461.9 L110.9,460.0 L112.3,457.9 L113.7,455.4 L115.0,452.7 L116.4,449.7 L117.7,446.7 L119.1,443.6 L120.5,440.4 L121.8,437.3 L123.2,434.3 L124.5,431.4 L125.9,428.7 L127.3,426.1 L128.6,423.7 L130.0,421.6 L131.4,419.7 L132.7,418.1 L134.1,416.6 L135.4,415.4 L136.8,414.4 L138.2,413.6 L139.5,413.0 L140.9,412.5 L142.3,412.2 L143.6,412.0 L145.0,412.0 L146.3,412.1 L147.7,412.4 L149.1,412.7 L150.4,413.2 L151.8,413.8 L153.2,414.6 L154.5,415.6 L155.9,416.9 L157.2,418.6 L158.6,420.9 L160.0,423.7 L161.3,427.1 L162.7,431.1 L164.0,435.4 L165.4,440.0 L166.8,444.6 L168.1,449.1 L169.5,453.6 L170.9,458.0 L172.2,462.4 L173.6,466.8 L174.9,471.2 L176.3,475.7 L177.7,480.3 L179.0,485.0 L180.4,489.9 L181.8,494.8 L183.1,499.8 L184.5,504.8 L185.8,509.8 L187.2,514.7 L188.6,519.4 L189.9,524.0 L191.3,528.3 L192.6,532.4 L194.0,536.2 L195.4,539.8 L196.7,543.1 L198.1,546.1 L199.5,548.8 L200.8,551.4 L202.2,553.7 L203.5,555.8 L204.9,557.7 L206.3,559.5 L207.6,561.1 L209.0,562.6 L210.4,563.9 L211.7,565.1 L213.1,566.2 L214.4,567.2 L215.8,568.1 L217.2,568.9 L218.5,569.6 L219.9,570.2 L221.2,570.7 L222.6,571.1 L224.0,571.5 L225.3,571.9 L226.7,572.1 L228.1,572.3 L229.4,572.5 L230.8,572.6 L232.1,572.7 L233.5,572.7 L234.9,572.8 L236.2,572.8 L237.6,572.8 L239.0,572.8 L240.3,572.7 L241.7,572.7 L243.0,572.7 L244.4,572.7 L245.8,572.6 L247.1,572.6 L248.5,572.6 L249.9,572.6 L251.2,572.6 L252.6,572.6 L253.9,572.6 L255.3,572.6 L256.7,572.6 L258.0,572.6 L259.4,572.6 L260.7,572.6 L262.1,572.6 L263.5,572.7 L264.8,572.7 L266.2,572.7 L267.6,572.7 L268.9,572.8 L270.3,572.8 L271.6,572.8 L273.0,572.8 L274.4,572.9 L275.7,572.9 L277.1,573.0 L278.5,573.0 L279.8,573.0 L281.2,573.1 L282.5,573.1 L283.9,573.2 L285.3,573.2 L286.6,573.3 L288.0,573.3 L289.4,573.4 L290.7,573.5 L292.1,573.5 L293.4,573.6 L294.8,573.6 L296.2,573.7 L297.5,573.8 L298.9,573.8 L300.2,573.9 L301.6,574.0 L303.0,574.0 L304.3,574.1 L305.7,574.2 L307.1,574.3 L308.4,574.3 L309.8,574.4 L311.1,574.5 L312.5,574.6 L313.9,574.6 L315.2,574.7 L316.6,574.8 L318.0,574.9 L319.3,575.0 L320.7,575.0 L322.0,575.1 L323.4,575.2 L324.8,575.3 L326.1,575.4 L327.5,575.5 L328.8,575.5 L330.2,575.6 L331.6,575.7 L332.9,575.8 L334.3,575.9 L335.7,575.9 L337.0,576.0" stroke="#ebe462" stroke-width="1.35" fill="none" stroke-linejoin="round"/>
<path d="M51.0,462.3 L52.4,462.4 L53.7,462.5 L55.1,462.6 L56.4,462.7 L57.8,462.8 L59.2,463.0 L60.5,463.2 L61.9,463.5 L63.3,463.8 L64.6,464.2 L66.0,464.6 L67.3,465.0 L68.7,465.4 L70.1,465.8 L71.4,466.1 L72.8,466.4 L74.2,466.6 L75.5,466.7 L76.9,466.8 L78.2,466.7 L79.6,466.4 L81.0,466.1 L82.3,465.5 L83.7,464.9 L85.1,464.0 L86.4,463.1 L87.8,461.9 L89.1,460.7 L90.5,459.3 L91.9,457.8 L93.2,456.2 L94.6,454.6 L95.9,453.0 L97.3,451.4 L98.7,449.8 L100.0,448.4 L101.4,447.1 L102.8,446.0 L104.1,445.2 L105.5,444.6 L106.8,444.2 L108.2,444.1 L109.6,444.2 L110.9,444.5 L112.3,444.9 L113.7,445.5 L115.0,446.2 L116.4,447.4 L117.7,449.0 L119.1,451.5 L120.5,454.9 L121.8,459.3 L123.2,464.6 L124.5,470.3 L125.9,476.3 L127.3,482.2 L128.6,487.8 L130.0,493.0 L131.4,497.8 L132.7,502.1 L134.1,506.1 L135.4,509.8 L136.8,513.3 L138.2,516.6 L139.5,519.8 L140.9,523.0 L142.3,526.1 L143.6,529.1 L145.0,532.0 L146.3,534.8 L147.7,537.5 L149.1,540.0 L150.4,542.3 L151.8,544.4 L153.2,546.2 L154.5,547.8 L155.9,549.2 L157.2,550.4 L158.6,551.5 L160.0,552.5 L161.3,553.4 L162.7,554.3 L164.0,555.1 L165.4,555.9 L166.8,556.7 L168.1,557.4 L169.5,558.1 L170.9,558.8 L172.2,559.4 L173.6,560.0 L174.9,560.6 L176.3,561.2 L177.7,561.7 L179.0,562.2 L180.4,562.6 L181.8,563.1 L183.1,563.5 L184.5,563.9 L185.8,564.3 L187.2,564.6 L188.6,564.9 L189.9,565.2 L191.3,565.5 L192.6,565.7 L194.0,566.0 L195.4,566.2 L196.7,566.4 L198.1,566.6 L199.5,566.8 L200.8,567.0 L202.2,567.2 L203.5,567.3 L204.9,567.5 L206.3,567.7 L207.6,567.8 L209.0,568.0 L210.4,568.1 L211.7,568.3 L213.1,568.5 L214.4,568.6 L215.8,568.8 L217.2,569.0 L218.5,569.1 L219.9,569.3 L221.2,569.5 L222.6,569.7 L224.0,569.8 L225.3,570.0 L226.7,570.2 L228.1,570.3 L229.4,570.5 L230.8,570.7 L232.1,570.8 L233.5,571.0 L234.9,571.2 L236.2,571.3 L237.6,571.5 L239.0,571.7 L240.3,571.8 L241.7,572.0 L243.0,572.1 L244.4,572.3 L245.8,572.4 L247.1,572.6 L248.5,572.7 L249.9,572.8 L251.2,573.0 L252.6,573.1 L253.9,573.2 L255.3,573.4 L256.7,573.5 L258.0,573.6 L259.4,573.7 L260.7,573.8 L262.1,573.9 L263.5,574.0 L264.8,574.1 L266.2,574.2 L267.6,574.3 L268.9,574.4 L270.3,574.4 L271.6,574.5 L273.0,574.6 L274.4,574.7 L275.7,574.7 L277.1,574.8 L278.5,574.8 L279.8,574.9 L281.2,574.9 L282.5,575.0 L283.9,575.0 L285.3,575.1 L286.6,575.1 L288.0,575.1 L289.4,575.2 L290.7,575.2 L292.1,575.2 L293.4,575.3 L294.8,575.3 L296.2,575.3 L297.5,575.3 L298.9,575.3 L300.2,575.4 L301.6,575.4 L303.0,575.4 L304.3,575.4 L305.7,575.4 L307.1,575.4 L308.4,575.4 L309.8,575.4 L311.1,575.4 L312.5,575.4 L313.9,575.4 L315.2,575.4 L316.6,575.4 L318.0,575.4 L319.3,575.4 L320.7,575.4 L322.0,575.3 L323.4,575.3 L324.8,575.3 L326.1,575.3 L327.5,575.3 L328.8,575.3 L330.2,575.3 L331.6,575.3 L332.9,575.2 L334.3,575.2 L335.7,575.2 L337.0,575.2" stroke="#68c8d8" stroke-width="1.35" fill="none" stroke-linejoin="round"/>
<path d="M51.0,509.5 L52.4,508.9 L53.7,508.1 L55.1,507.1 L56.4,506.0 L57.8,504.7 L59.2,503.3 L60.5,501.7 L61.9,499.9 L63.3,498.0 L64.6,495.8 L66.0,493.5 L67.3,491.0 L68.7,488.5 L70.1,486.1 L71.4,483.6 L72.8,481.3 L74.2,479.2 L75.5,477.2 L76.9,475.5 L78.2,473.9 L79.6,472.5 L81.0,471.2 L82.3,470.1 L83.7,469.1 L85.1,468.1 L86.4,467.3 L87.8,466.5 L89.1,465.8 L90.5,465.2 L91.9,464.8 L93.2,464.5 L94.6,464.2 L95.9,464.1 L97.3,464.0 L98.7,463.9 L100.0,463.9 L101.4,463.7 L102.8,463.5 L104.1,463.2 L105.5,462.6 L106.8,461.9 L108.2,460.9 L109.6,459.6 L110.9,458.0 L112.3,456.1 L113.7,453.8 L115.0,451.3 L116.4,448.6 L117.7,445.7 L119.1,442.6 L120.5,439.3 L121.8,436.0 L123.2,432.7 L124.5,429.3 L125.9,426.0 L127.3,422.8 L128.6,419.6 L130.0,416.6 L131.4,413.8 L132.7,411.2 L134.1,408.9 L135.4,406.8 L136.8,405.0 L138.2,403.5 L139.5,402.1 L140.9,401.1 L142.3,400.2 L143.6,399.6 L145.0,399.1 L146.3,398.8 L147.7,398.7 L149.1,398.8 L150.4,399.0 L151.8,399.5 L153.2,400.2 L154.5,401.0 L155.9,402.2 L157.2,403.6 L158.6,405.3 L160.0,407.2 L161.3,409.5 L162.7,412.1 L164.0,415.1 L165.4,418.3 L166.8,422.0 L168.1,425.9 L169.5,430.2 L170.9,434.6 L172.2,439.2 L173.6,443.9 L174.9,448.6 L176.3,453.3 L177.7,458.0 L179.0,462.8 L180.4,467.7 L181.8,472.6 L183.1,477.7 L184.5,482.8 L185.8,487.9 L187.2,493.2 L188.6,498.4 L189.9,503.5 L191.3,508.6 L192.6,513.4 L194.0,518.1 L195.4,522.5 L196.7,526.6 L198.1,530.4 L199.5,533.9 L200.8,537.1 L202.2,540.1 L203.5,542.7 L204.9,545.2 L206.3,547.4 L207.6,549.5 L209.0,551.3 L210.4,553.0 L211.7,554.5 L213.1,555.9 L214.4,557.2 L215.8,558.3 L217.2,559.3 L218.5,560.2 L219.9,561.0 L221.2,561.8 L222.6,562.4 L224.0,563.0 L225.3,563.5 L226.7,563.9 L228.1,564.3 L229.4,564.7 L230.8,565.1 L232.1,565.4 L233.5,565.7 L234.9,566.0 L236.2,566.3 L237.6,566.6 L239.0,566.8 L240.3,567.1 L241.7,567.4 L243.0,567.6 L244.4,567.9 L245.8,568.2 L247.1,568.4 L248.5,568.6 L249.9,568.9 L251.2,569.1 L252.6,569.3 L253.9,569.5 L255.3,569.7 L256.7,569.9 L258.0,570.1 L259.4,570.3 L260.7,570.5 L262.1,570.7 L263.5,570.9 L264.8,571.1 L266.2,571.2 L267.6,571.4 L268.9,571.5 L270.3,571.7 L271.6,571.8 L273.0,572.0 L274.4,572.1 L275.7,572.2 L277.1,572.3 L278.5,572.5 L279.8,572.6 L281.2,572.7 L282.5,572.8 L283.9,572.9 L285.3,573.0 L286.6,573.1 L288.0,573.2 L289.4,573.2 L290.7,573.3 L292.1,573.4 L293.4,573.5 L294.8,573.5 L296.2,573.6 L297.5,573.6 L298.9,573.7 L300.2,573.7 L301.6,573.8 L303.0,573.8 L304.3,573.9 L305.7,573.9 L307.1,574.0 L308.4,574.0 L309.8,574.0 L311.1,574.1 L312.5,574.1 L313.9,574.1 L315.2,574.1 L316.6,574.2 L318.0,574.2 L319.3,574.2 L320.7,574.2 L322.0,574.2 L323.4,574.2 L324.8,574.3 L326.1,574.3 L327.5,574.3 L328.8,574.3 L330.2,574.3 L331.6,574.3 L332.9,574.3 L334.3,574.3 L335.7,574.3 L337.0,574.3" stroke="#60b858" stroke-width="1.35" fill="none" stroke-linejoin="round"/>
<path d="M51.0,517.5 L52.4,516.9 L53.7,516.1 L55.1,515.1 L56.4,514.0 L57.8,512.6 L59.2,511.0 L60.5,509.3 L61.9,507.3 L63.3,505.1 L64.6,502.9 L66.0,500.5 L67.3,498.0 L68.7,495.6 L70.1,493.1 L71.4,490.7 L72.8,488.4 L74.2,486.2 L75.5,484.0 L76.9,482.0 L78.2,480.1 L79.6,478.3 L81.0,476.7 L82.3,475.2 L83.7,473.8 L85.1,472.7 L86.4,471.7 L87.8,470.8 L89.1,470.2 L90.5,469.8 L91.9,469.5 L93.2,469.4 L94.6,469.3 L95.9,469.4 L97.3,469.4 L98.7,469.3 L100.0,469.2 L101.4,468.8 L102.8,468.4 L104.1,467.7 L105.5,466.9 L106.8,465.9 L108.2,464.8 L109.6,463.6 L110.9,462.1 L112.3,460.5 L113.7,458.5 L115.0,456.2 L116.4,453.6 L117.7,450.6 L119.1,447.2 L120.5,443.7 L121.8,440.1 L123.2,436.5 L124.5,433.0 L125.9,429.7 L127.3,426.8 L128.6,424.1 L130.0,421.8 L131.4,419.8 L132.7,418.1 L134.1,416.6 L135.4,415.4 L136.8,414.4 L138.2,413.6 L139.5,413.0 L140.9,412.5 L142.3,412.2 L143.6,412.0 L145.0,412.0 L146.3,412.0 L147.7,412.3 L149.1,412.6 L150.4,413.1 L151.8,413.8 L153.2,414.7 L154.5,415.8 L155.9,417.3 L157.2,419.2 L158.6,421.6 L160.0,424.6 L161.3,428.1 L162.7,432.1 L164.0,436.5 L165.4,441.2 L166.8,446.0 L168.1,450.9 L169.5,455.9 L170.9,460.8 L172.2,465.7 L173.6,470.6 L174.9,475.6 L176.3,480.4 L177.7,485.3 L179.0,490.2 L180.4,495.0 L181.8,499.7 L183.1,504.4 L184.5,509.0 L185.8,513.5 L187.2,517.9 L188.6,522.1 L189.9,526.2 L191.3,530.2 L192.6,534.0 L194.0,537.6 L195.4,541.1 L196.7,544.3 L198.1,547.4 L199.5,550.4 L200.8,553.1 L202.2,555.6 L203.5,558.0 L204.9,560.2 L206.3,562.3 L207.6,564.1 L209.0,565.8 L210.4,567.3 L211.7,568.7 L213.1,569.9 L214.4,571.0 L215.8,572.0 L217.2,572.8 L218.5,573.6 L219.9,574.2 L221.2,574.7 L222.6,575.2 L224.0,575.6 L225.3,575.9 L226.7,576.1 L228.1,576.4 L229.4,576.5 L230.8,576.7 L232.1,576.8 L233.5,577.0 L234.9,577.1 L236.2,577.2 L237.6,577.3 L239.0,577.4 L240.3,577.5 L241.7,577.6 L243.0,577.7 L244.4,577.8 L245.8,577.9 L247.1,578.0 L248.5,578.1 L249.9,578.2 L251.2,578.3 L252.6,578.4 L253.9,578.5 L255.3,578.5 L256.7,578.6 L258.0,578.7 L259.4,578.7 L260.7,578.8 L262.1,578.8 L263.5,578.9 L264.8,578.9 L266.2,579.0 L267.6,579.0 L268.9,579.0 L270.3,579.0 L271.6,579.0 L273.0,579.0 L274.4,579.0 L275.7,579.0 L277.1,579.0 L278.5,579.0 L279.8,579.0 L281.2,579.0 L282.5,579.0 L283.9,579.0 L285.3,579.0 L286.6,579.0 L288.0,579.0 L289.4,579.0 L290.7,579.0 L292.1,579.0 L293.4,579.0 L294.8,579.0 L296.2,579.0 L297.5,579.0 L298.9,579.0 L300.2,579.0 L301.6,579.0 L303.0,579.0 L304.3,579.0 L305.7,579.0 L307.1,579.0 L308.4,579.0 L309.8,579.0 L311.1,579.0 L312.5,579.0 L313.9,579.0 L315.2,579.0 L316.6,579.0 L318.0,579.0 L319.3,579.0 L320.7,579.0 L322.0,579.0 L323.4,578.9 L324.8,578.9 L326.1,578.9 L327.5,578.8 L328.8,578.8 L330.2,578.8 L331.6,578.7 L332.9,578.7 L334.3,578.7 L335.7,578.6 L337.0,578.6" stroke="#a8469e" stroke-width="1.35" fill="none" stroke-linejoin="round"/>
<path d="M51.0,494.3 L52.4,494.0 L53.7,493.7 L55.1,493.3 L56.4,492.7 L57.8,492.1 L59.2,491.3 L60.5,490.3 L61.9,489.2 L63.3,487.9 L64.6,486.4 L66.0,484.8 L67.3,483.0 L68.7,481.1 L70.1,479.1 L71.4,477.2 L72.8,475.4 L74.2,473.7 L75.5,472.3 L76.9,471.0 L78.2,470.1 L79.6,469.3 L81.0,468.6 L82.3,468.1 L83.7,467.6 L85.1,467.1 L86.4,466.7 L87.8,466.3 L89.1,466.0 L90.5,465.8 L91.9,465.9 L93.2,466.2 L94.6,466.7 L95.9,467.6 L97.3,468.6 L98.7,469.7 L100.0,470.8 L101.4,471.7 L102.8,472.2 L104.1,472.3 L105.5,471.9 L106.8,471.0 L108.2,469.6 L109.6,467.8 L110.9,465.5 L112.3,463.0 L113.7,460.2 L115.0,457.3 L116.4,454.1 L117.7,450.9 L119.1,447.6 L120.5,444.3 L121.8,441.1 L123.2,437.9 L124.5,434.7 L125.9,431.7 L127.3,428.7 L128.6,425.7 L130.0,422.6 L131.4,419.5 L132.7,416.1 L134.1,412.5 L135.4,408.8 L136.8,404.9 L138.2,401.1 L139.5,397.6 L140.9,394.5 L142.3,392.1 L143.6,390.3 L145.0,389.1 L146.3,388.4 L147.7,388.1 L149.1,388.2 L150.4,388.5 L151.8,389.0 L153.2,389.7 L154.5,390.6 L155.9,391.7 L157.2,393.2 L158.6,394.9 L160.0,396.9 L161.3,399.2 L162.7,401.9 L164.0,404.8 L165.4,408.0 L166.8,411.4 L168.1,415.2 L169.5,419.2 L170.9,423.6 L172.2,428.5 L173.6,434.0 L174.9,440.3 L176.3,447.3 L177.7,455.0 L179.0,463.2 L180.4,471.6 L181.8,479.9 L183.1,487.9 L184.5,495.3 L185.8,502.2 L187.2,508.6 L188.6,514.3 L189.9,519.6 L191.3,524.5 L192.6,528.9 L194.0,533.0 L195.4,536.7 L196.7,540.1 L198.1,543.2 L199.5,546.0 L200.8,548.6 L202.2,551.0 L203.5,553.2 L204.9,555.1 L206.3,556.9 L207.6,558.6 L209.0,560.1 L210.4,561.5 L211.7,562.8 L213.1,563.9 L214.4,565.0 L215.8,565.9 L217.2,566.8 L218.5,567.6 L219.9,568.3 L221.2,568.9 L222.6,569.5 L224.0,570.1 L225.3,570.6 L226.7,571.0 L228.1,571.5 L229.4,571.9 L230.8,572.2 L232.1,572.6 L233.5,572.9 L234.9,573.2 L236.2,573.5 L237.6,573.7 L239.0,573.9 L240.3,574.1 L241.7,574.3 L243.0,574.5 L244.4,574.6 L245.8,574.7 L247.1,574.8 L248.5,574.9 L249.9,575.0 L251.2,575.0 L252.6,575.1 L253.9,575.1 L255.3,575.2 L256.7,575.2 L258.0,575.2 L259.4,575.2 L260.7,575.2 L262.1,575.2 L263.5,575.2 L264.8,575.2 L266.2,575.2 L267.6,575.2 L268.9,575.2 L270.3,575.1 L271.6,575.1 L273.0,575.1 L274.4,575.1 L275.7,575.1 L277.1,575.1 L278.5,575.2 L279.8,575.2 L281.2,575.2 L282.5,575.2 L283.9,575.2 L285.3,575.2 L286.6,575.2 L288.0,575.3 L289.4,575.3 L290.7,575.3 L292.1,575.3 L293.4,575.4 L294.8,575.4 L296.2,575.4 L297.5,575.4 L298.9,575.5 L300.2,575.5 L301.6,575.5 L303.0,575.6 L304.3,575.6 L305.7,575.7 L307.1,575.7 L308.4,575.7 L309.8,575.8 L311.1,575.8 L312.5,575.9 L313.9,575.9 L315.2,576.0 L316.6,576.0 L318.0,576.1 L319.3,576.1 L320.7,576.2 L322.0,576.2 L323.4,576.3 L324.8,576.3 L326.1,576.4 L327.5,576.4 L328.8,576.5 L330.2,576.5 L331.6,576.6 L332.9,576.6 L334.3,576.7 L335.7,576.7 L337.0,576.7" stroke="#ac3e48" stroke-width="1.35" fill="none" stroke-linejoin="round"/>
<path d="M51.0,501.2 L52.4,500.9 L53.7,500.6 L55.1,500.1 L56.4,499.6 L57.8,499.1 L59.2,498.4 L60.5,497.8 L61.9,497.0 L63.3,496.2 L64.6,495.3 L66.0,494.3 L67.3,493.3 L68.7,492.2 L70.1,491.1 L71.4,489.9 L72.8,488.8 L74.2,487.6 L75.5,486.6 L76.9,485.5 L78.2,484.5 L79.6,483.6 L81.0,482.8 L82.3,482.1 L83.7,481.5 L85.1,481.1 L86.4,480.8 L87.8,480.6 L89.1,480.7 L90.5,480.8 L91.9,481.2 L93.2,481.6 L94.6,482.2 L95.9,482.8 L97.3,483.4 L98.7,484.0 L100.0,484.5 L101.4,484.8 L102.8,485.1 L104.1,485.2 L105.5,485.2 L106.8,485.0 L108.2,484.7 L109.6,484.3 L110.9,483.8 L112.3,483.4 L113.7,482.9 L115.0,482.4 L116.4,481.9 L117.7,481.4 L119.1,480.9 L120.5,480.4 L121.8,479.7 L123.2,479.0 L124.5,478.2 L125.9,477.2 L127.3,476.1 L128.6,474.9 L130.0,473.5 L131.4,472.0 L132.7,470.4 L134.1,468.6 L135.4,466.7 L136.8,464.7 L138.2,462.7 L139.5,460.5 L140.9,458.3 L142.3,456.1 L143.6,453.8 L145.0,451.6 L146.3,449.3 L147.7,447.1 L149.1,444.9 L150.4,442.8 L151.8,440.8 L153.2,438.9 L154.5,437.0 L155.9,435.3 L157.2,433.7 L158.6,432.3 L160.0,431.0 L161.3,429.9 L162.7,428.9 L164.0,428.1 L165.4,427.4 L166.8,426.8 L168.1,426.4 L169.5,426.0 L170.9,425.8 L172.2,425.6 L173.6,425.5 L174.9,425.4 L176.3,425.5 L177.7,425.7 L179.0,426.0 L180.4,426.4 L181.8,427.0 L183.1,427.7 L184.5,428.6 L185.8,429.8 L187.2,431.1 L188.6,432.7 L189.9,434.5 L191.3,436.6 L192.6,438.9 L194.0,441.5 L195.4,444.3 L196.7,447.4 L198.1,450.6 L199.5,454.0 L200.8,457.6 L202.2,461.2 L203.5,464.9 L204.9,468.6 L206.3,472.2 L207.6,475.9 L209.0,479.4 L210.4,482.9 L211.7,486.2 L213.1,489.5 L214.4,492.6 L215.8,495.7 L217.2,498.7 L218.5,501.6 L219.9,504.4 L221.2,507.2 L222.6,510.0 L224.0,512.7 L225.3,515.4 L226.7,518.1 L228.1,520.8 L229.4,523.5 L230.8,526.2 L232.1,528.9 L233.5,531.5 L234.9,534.1 L236.2,536.6 L237.6,539.1 L239.0,541.5 L240.3,543.7 L241.7,545.9 L243.0,547.9 L244.4,549.8 L245.8,551.6 L247.1,553.2 L248.5,554.7 L249.9,556.1 L251.2,557.4 L252.6,558.5 L253.9,559.6 L255.3,560.5 L256.7,561.4 L258.0,562.2 L259.4,563.0 L260.7,563.7 L262.1,564.3 L263.5,564.9 L264.8,565.4 L266.2,566.0 L267.6,566.5 L268.9,566.9 L270.3,567.4 L271.6,567.8 L273.0,568.2 L274.4,568.6 L275.7,569.0 L277.1,569.3 L278.5,569.6 L279.8,569.9 L281.2,570.2 L282.5,570.5 L283.9,570.8 L285.3,571.0 L286.6,571.3 L288.0,571.5 L289.4,571.7 L290.7,571.9 L292.1,572.1 L293.4,572.3 L294.8,572.4 L296.2,572.6 L297.5,572.8 L298.9,572.9 L300.2,573.0 L301.6,573.2 L303.0,573.3 L304.3,573.4 L305.7,573.5 L307.1,573.7 L308.4,573.8 L309.8,573.9 L311.1,574.0 L312.5,574.1 L313.9,574.1 L315.2,574.2 L316.6,574.3 L318.0,574.4 L319.3,574.4 L320.7,574.5 L322.0,574.6 L323.4,574.6 L324.8,574.7 L326.1,574.8 L327.5,574.8 L328.8,574.9 L330.2,574.9 L331.6,575.0 L332.9,575.0 L334.3,575.1 L335.7,575.1 L337.0,575.2" stroke="#2c3278" stroke-width="1.35" fill="none" stroke-linejoin="round"/>
<path d="M51.0,510.2 L52.4,510.5 L53.7,510.9 L55.1,511.2 L56.4,511.6 L57.8,511.9 L59.2,512.2 L60.5,512.4 L61.9,512.4 L63.3,512.4 L64.6,512.3 L66.0,512.0 L67.3,511.6 L68.7,511.1 L70.1,510.4 L71.4,509.6 L72.8,508.7 L74.2,507.6 L75.5,506.5 L76.9,505.2 L78.2,503.9 L79.6,502.6 L81.0,501.2 L82.3,499.8 L83.7,498.4 L85.1,497.1 L86.4,495.7 L87.8,494.5 L89.1,493.3 L90.5,492.1 L91.9,491.1 L93.2,490.1 L94.6,489.3 L95.9,488.6 L97.3,488.0 L98.7,487.6 L100.0,487.2 L101.4,486.8 L102.8,486.5 L104.1,486.1 L105.5,485.7 L106.8,485.2 L108.2,484.6 L109.6,484.0 L110.9,483.4 L112.3,482.8 L113.7,482.2 L115.0,481.7 L116.4,481.3 L117.7,481.0 L119.1,480.6 L120.5,480.3 L121.8,479.9 L123.2,479.4 L124.5,478.8 L125.9,478.0 L127.3,477.1 L128.6,476.0 L130.0,474.9 L131.4,473.7 L132.7,472.4 L134.1,471.1 L135.4,469.9 L136.8,468.6 L138.2,467.3 L139.5,466.1 L140.9,465.0 L142.3,464.0 L143.6,463.0 L145.0,462.2 L146.3,461.5 L147.7,460.9 L149.1,460.4 L150.4,460.0 L151.8,459.7 L153.2,459.5 L154.5,459.3 L155.9,459.2 L157.2,459.2 L158.6,459.2 L160.0,459.2 L161.3,459.3 L162.7,459.5 L164.0,459.8 L165.4,460.1 L166.8,460.5 L168.1,461.1 L169.5,461.7 L170.9,462.4 L172.2,463.3 L173.6,464.3 L174.9,465.4 L176.3,466.7 L177.7,468.0 L179.0,469.4 L180.4,470.9 L181.8,472.5 L183.1,474.2 L184.5,476.0 L185.8,477.8 L187.2,479.7 L188.6,481.6 L189.9,483.6 L191.3,485.7 L192.6,487.7 L194.0,489.8 L195.4,491.9 L196.7,494.0 L198.1,496.1 L199.5,498.2 L200.8,500.3 L202.2,502.4 L203.5,504.5 L204.9,506.6 L206.3,508.8 L207.6,511.0 L209.0,513.2 L210.4,515.4 L211.7,517.6 L213.1,519.9 L214.4,522.2 L215.8,524.4 L217.2,526.7 L218.5,528.9 L219.9,531.1 L221.2,533.2 L222.6,535.3 L224.0,537.3 L225.3,539.3 L226.7,541.1 L228.1,542.9 L229.4,544.6 L230.8,546.2 L232.1,547.7 L233.5,549.1 L234.9,550.5 L236.2,551.7 L237.6,552.9 L239.0,554.1 L240.3,555.1 L241.7,556.1 L243.0,557.1 L244.4,558.0 L245.8,558.8 L247.1,559.6 L248.5,560.4 L249.9,561.2 L251.2,561.9 L252.6,562.6 L253.9,563.3 L255.3,563.9 L256.7,564.6 L258.0,565.2 L259.4,565.7 L260.7,566.3 L262.1,566.8 L263.5,567.3 L264.8,567.8 L266.2,568.3 L267.6,568.7 L268.9,569.2 L270.3,569.6 L271.6,570.0 L273.0,570.3 L274.4,570.7 L275.7,571.0 L277.1,571.4 L278.5,571.7 L279.8,571.9 L281.2,572.2 L282.5,572.5 L283.9,572.7 L285.3,572.9 L286.6,573.2 L288.0,573.4 L289.4,573.6 L290.7,573.7 L292.1,573.9 L293.4,574.1 L294.8,574.2 L296.2,574.4 L297.5,574.5 L298.9,574.6 L300.2,574.8 L301.6,574.9 L303.0,575.0 L304.3,575.1 L305.7,575.2 L307.1,575.3 L308.4,575.4 L309.8,575.5 L311.1,575.5 L312.5,575.6 L313.9,575.7 L315.2,575.8 L316.6,575.9 L318.0,575.9 L319.3,576.0 L320.7,576.1 L322.0,576.1 L323.4,576.2 L324.8,576.3 L326.1,576.3 L327.5,576.4 L328.8,576.4 L330.2,576.5 L331.6,576.6 L332.9,576.6 L334.3,576.7 L335.7,576.7 L337.0,576.7" stroke="#262626" stroke-width="1.35" fill="none" stroke-linejoin="round"/>
<path d="M51.00,365.80 V578.60 H337.02" stroke="#3a3a3a" stroke-width="1.25" fill="none"/>
<path d="M51.00,578.60 H46.50" stroke="#3a3a3a" stroke-width="1.1"/>
<text x="0" y="0" font-size="9.6" text-anchor="end" fill="#2a2a2a" transform="translate(44.20,580.90) scale(0.83,1)">0,0</text>
<path d="M51.00,557.32 H48.50" stroke="#3a3a3a" stroke-width="1.1"/>
<path d="M51.00,536.04 H46.50" stroke="#3a3a3a" stroke-width="1.1"/>
<text x="0" y="0" font-size="9.6" text-anchor="end" fill="#2a2a2a" transform="translate(44.20,538.34) scale(0.83,1)">0,1</text>
<path d="M51.00,514.76 H48.50" stroke="#3a3a3a" stroke-width="1.1"/>
<path d="M51.00,493.48 H46.50" stroke="#3a3a3a" stroke-width="1.1"/>
<text x="0" y="0" font-size="9.6" text-anchor="end" fill="#2a2a2a" transform="translate(44.20,495.78) scale(0.83,1)">0,2</text>
<path d="M51.00,472.20 H48.50" stroke="#3a3a3a" stroke-width="1.1"/>
<path d="M51.00,450.92 H46.50" stroke="#3a3a3a" stroke-width="1.1"/>
<text x="0" y="0" font-size="9.6" text-anchor="end" fill="#2a2a2a" transform="translate(44.20,453.22) scale(0.83,1)">0,3</text>
<path d="M51.00,429.64 H48.50" stroke="#3a3a3a" stroke-width="1.1"/>
<path d="M51.00,408.36 H46.50" stroke="#3a3a3a" stroke-width="1.1"/>
<text x="0" y="0" font-size="9.6" text-anchor="end" fill="#2a2a2a" transform="translate(44.20,410.66) scale(0.83,1)">0,4</text>
<path d="M51.00,387.08 H48.50" stroke="#3a3a3a" stroke-width="1.1"/>
<path d="M51.00,365.80 H46.50" stroke="#3a3a3a" stroke-width="1.1"/>
<text x="0" y="0" font-size="9.6" text-anchor="end" fill="#2a2a2a" transform="translate(44.20,368.10) scale(0.83,1)">0,5</text>
<path d="M64.62,578.60 V583.10" stroke="#3a3a3a" stroke-width="1.1"/>
<text x="0" y="0" font-size="10" text-anchor="middle" fill="#2a2a2a" transform="translate(64.62,592.80) scale(0.8,1)">300</text>
<path d="M132.72,578.60 V581.10" stroke="#3a3a3a" stroke-width="1.1"/>
<path d="M200.82,578.60 V583.10" stroke="#3a3a3a" stroke-width="1.1"/>
<text x="0" y="0" font-size="10" text-anchor="middle" fill="#2a2a2a" transform="translate(200.82,592.80) scale(0.8,1)">400</text>
<path d="M268.92,578.60 V581.10" stroke="#3a3a3a" stroke-width="1.1"/>
<path d="M337.02,578.60 V583.10" stroke="#3a3a3a" stroke-width="1.1"/>
<text x="0" y="0" font-size="10" text-anchor="middle" fill="#2a2a2a" transform="translate(337.02,592.80) scale(0.8,1)">500</text>
<text x="194.01" y="609.10" font-size="10.4" text-anchor="middle" fill="#222">Wavelength (nm)</text>
<text x="0" y="0" font-size="10.3" text-anchor="middle" fill="#222" transform="translate(17.00,473.20) rotate(-90)">Absorbance</text>
<path d="M438.5,506.7 L439.9,506.5 L441.2,506.2 L442.6,505.9 L443.9,505.5 L445.3,505.0 L446.7,504.4 L448.0,503.8 L449.4,503.0 L450.8,502.1 L452.1,501.0 L453.5,499.8 L454.8,498.4 L456.2,496.9 L457.6,495.2 L458.9,493.5 L460.3,491.8 L461.7,490.1 L463.0,488.5 L464.4,487.1 L465.7,485.8 L467.1,484.7 L468.5,483.8 L469.8,483.0 L471.2,482.3 L472.6,481.8 L473.9,481.4 L475.3,481.1 L476.6,480.9 L478.0,480.7 L479.4,480.6 L480.7,480.6 L482.1,480.5 L483.4,480.5 L484.8,480.4 L486.2,480.3 L487.5,480.1 L488.9,479.8 L490.3,479.5 L491.6,479.0 L493.0,478.4 L494.3,477.7 L495.7,476.8 L497.1,475.7 L498.4,474.4 L499.8,472.9 L501.2,471.3 L502.5,469.4 L503.9,467.4 L505.2,465.3 L506.6,463.1 L508.0,460.9 L509.3,458.7 L510.7,456.6 L512.0,454.7 L513.4,452.8 L514.8,451.1 L516.1,449.6 L517.5,448.2 L518.9,446.9 L520.2,445.8 L521.6,444.8 L522.9,443.9 L524.3,443.1 L525.7,442.5 L527.0,442.1 L528.4,441.7 L529.8,441.5 L531.1,441.3 L532.5,441.3 L533.8,441.4 L535.2,441.7 L536.6,442.0 L537.9,442.5 L539.3,443.0 L540.6,443.7 L542.0,444.5 L543.4,445.5 L544.7,446.8 L546.1,448.3 L547.5,450.1 L548.8,452.3 L550.2,455.0 L551.5,458.0 L552.9,461.4 L554.3,465.2 L555.6,469.2 L557.0,473.5 L558.4,478.0 L559.7,482.5 L561.1,487.1 L562.4,491.6 L563.8,496.0 L565.2,500.4 L566.5,504.5 L567.9,508.6 L569.3,512.5 L570.6,516.3 L572.0,519.9 L573.3,523.5 L574.7,526.9 L576.1,530.2 L577.4,533.4 L578.8,536.6 L580.1,539.6 L581.5,542.5 L582.9,545.3 L584.2,548.0 L585.6,550.5 L587.0,552.9 L588.3,555.2 L589.7,557.4 L591.0,559.4 L592.4,561.3 L593.8,563.0 L595.1,564.5 L596.5,565.9 L597.9,567.2 L599.2,568.3 L600.6,569.3 L601.9,570.1 L603.3,570.9 L604.7,571.5 L606.0,572.1 L607.4,572.6 L608.8,572.9 L610.1,573.3 L611.5,573.5 L612.8,573.7 L614.2,573.8 L615.6,574.0 L616.9,574.0 L618.3,574.1 L619.6,574.1 L621.0,574.2 L622.4,574.2 L623.7,574.2 L625.1,574.2 L626.5,574.3 L627.8,574.3 L629.2,574.3 L630.5,574.3 L631.9,574.4 L633.3,574.4 L634.6,574.4 L636.0,574.4 L637.4,574.5 L638.7,574.5 L640.1,574.5 L641.4,574.6 L642.8,574.6 L644.2,574.6 L645.5,574.7 L646.9,574.7 L648.2,574.7 L649.6,574.8 L651.0,574.8 L652.3,574.8 L653.7,574.9 L655.1,574.9 L656.4,575.0 L657.8,575.0 L659.1,575.0 L660.5,575.1 L661.9,575.1 L663.2,575.1 L664.6,575.2 L666.0,575.2 L667.3,575.3 L668.7,575.3 L670.0,575.4 L671.4,575.4 L672.8,575.4 L674.1,575.5 L675.5,575.5 L676.9,575.6 L678.2,575.6 L679.6,575.7 L680.9,575.7 L682.3,575.8 L683.7,575.8 L685.0,575.8 L686.4,575.9 L687.7,575.9 L689.1,576.0 L690.5,576.0 L691.8,576.1 L693.2,576.1 L694.6,576.2 L695.9,576.2 L697.3,576.3 L698.6,576.3 L700.0,576.4 L701.4,576.4 L702.7,576.5 L704.1,576.5 L705.5,576.6 L706.8,576.6 L708.2,576.7 L709.5,576.7 L710.9,576.8 L712.3,576.8 L713.6,576.9 L715.0,576.9 L716.3,577.0 L717.7,577.0 L719.1,577.1 L720.4,577.1 L721.8,577.2 L723.2,577.2 L724.5,577.2" stroke="#ebe462" stroke-width="1.35" fill="none" stroke-linejoin="round"/>
<path d="M438.5,464.1 L439.9,464.2 L441.2,464.4 L442.6,464.5 L443.9,464.7 L445.3,464.9 L446.7,465.2 L448.0,465.4 L449.4,465.7 L450.8,466.0 L452.1,466.4 L453.5,466.8 L454.8,467.1 L456.2,467.5 L457.6,467.8 L458.9,468.1 L460.3,468.3 L461.7,468.4 L463.0,468.3 L464.4,468.2 L465.7,467.8 L467.1,467.4 L468.5,466.8 L469.8,466.0 L471.2,465.2 L472.6,464.2 L473.9,463.2 L475.3,462.0 L476.6,460.8 L478.0,459.5 L479.4,458.1 L480.7,456.7 L482.1,455.3 L483.4,453.9 L484.8,452.6 L486.2,451.3 L487.5,450.1 L488.9,448.9 L490.3,448.0 L491.6,447.1 L493.0,446.5 L494.3,446.1 L495.7,445.8 L497.1,445.9 L498.4,446.3 L499.8,447.0 L501.2,448.0 L502.5,449.5 L503.9,451.5 L505.2,453.9 L506.6,456.8 L508.0,460.1 L509.3,463.8 L510.7,467.9 L512.0,472.3 L513.4,476.7 L514.8,481.3 L516.1,485.8 L517.5,490.2 L518.9,494.5 L520.2,498.7 L521.6,502.6 L522.9,506.5 L524.3,510.1 L525.7,513.7 L527.0,517.1 L528.4,520.4 L529.8,523.5 L531.1,526.5 L532.5,529.4 L533.8,532.2 L535.2,534.8 L536.6,537.2 L537.9,539.5 L539.3,541.6 L540.6,543.6 L542.0,545.3 L543.4,547.0 L544.7,548.4 L546.1,549.8 L547.5,551.0 L548.8,552.1 L550.2,553.1 L551.5,554.0 L552.9,554.8 L554.3,555.6 L555.6,556.3 L557.0,556.9 L558.4,557.5 L559.7,558.1 L561.1,558.7 L562.4,559.2 L563.8,559.7 L565.2,560.2 L566.5,560.7 L567.9,561.2 L569.3,561.7 L570.6,562.1 L572.0,562.5 L573.3,563.0 L574.7,563.4 L576.1,563.8 L577.4,564.2 L578.8,564.6 L580.1,564.9 L581.5,565.3 L582.9,565.6 L584.2,566.0 L585.6,566.3 L587.0,566.6 L588.3,566.9 L589.7,567.2 L591.0,567.5 L592.4,567.7 L593.8,568.0 L595.1,568.2 L596.5,568.5 L597.9,568.7 L599.2,569.0 L600.6,569.2 L601.9,569.4 L603.3,569.6 L604.7,569.8 L606.0,570.0 L607.4,570.1 L608.8,570.3 L610.1,570.5 L611.5,570.6 L612.8,570.8 L614.2,570.9 L615.6,571.1 L616.9,571.2 L618.3,571.4 L619.6,571.5 L621.0,571.6 L622.4,571.7 L623.7,571.8 L625.1,571.9 L626.5,572.0 L627.8,572.1 L629.2,572.2 L630.5,572.3 L631.9,572.4 L633.3,572.5 L634.6,572.6 L636.0,572.7 L637.4,572.7 L638.7,572.8 L640.1,572.9 L641.4,573.0 L642.8,573.0 L644.2,573.1 L645.5,573.2 L646.9,573.3 L648.2,573.3 L649.6,573.4 L651.0,573.4 L652.3,573.5 L653.7,573.6 L655.1,573.6 L656.4,573.7 L657.8,573.7 L659.1,573.8 L660.5,573.8 L661.9,573.9 L663.2,573.9 L664.6,574.0 L666.0,574.0 L667.3,574.0 L668.7,574.1 L670.0,574.1 L671.4,574.2 L672.8,574.2 L674.1,574.2 L675.5,574.3 L676.9,574.3 L678.2,574.3 L679.6,574.4 L680.9,574.4 L682.3,574.4 L683.7,574.4 L685.0,574.5 L686.4,574.5 L687.7,574.5 L689.1,574.5 L690.5,574.6 L691.8,574.6 L693.2,574.6 L694.6,574.6 L695.9,574.7 L697.3,574.7 L698.6,574.7 L700.0,574.7 L701.4,574.7 L702.7,574.7 L704.1,574.8 L705.5,574.8 L706.8,574.8 L708.2,574.8 L709.5,574.8 L710.9,574.8 L712.3,574.8 L713.6,574.9 L715.0,574.9 L716.3,574.9 L717.7,574.9 L719.1,574.9 L720.4,574.9 L721.8,574.9 L723.2,574.9 L724.5,575.0" stroke="#68c8d8" stroke-width="1.35" fill="none" stroke-linejoin="round"/>
<path d="M438.5,500.0 L439.9,499.5 L441.2,499.0 L442.6,498.2 L443.9,497.4 L445.3,496.3 L446.7,495.1 L448.0,493.7 L449.4,492.1 L450.8,490.3 L452.1,488.4 L453.5,486.5 L454.8,484.4 L456.2,482.5 L457.6,480.6 L458.9,478.9 L460.3,477.2 L461.7,475.7 L463.0,474.3 L464.4,473.1 L465.7,471.9 L467.1,470.8 L468.5,469.7 L469.8,468.8 L471.2,467.9 L472.6,467.0 L473.9,466.3 L475.3,465.6 L476.6,465.0 L478.0,464.5 L479.4,464.0 L480.7,463.6 L482.1,463.3 L483.4,463.1 L484.8,462.9 L486.2,462.7 L487.5,462.5 L488.9,462.4 L490.3,462.1 L491.6,461.7 L493.0,461.2 L494.3,460.4 L495.7,459.4 L497.1,458.1 L498.4,456.6 L499.8,454.9 L501.2,453.0 L502.5,450.9 L503.9,448.6 L505.2,446.2 L506.6,443.7 L508.0,441.0 L509.3,438.3 L510.7,435.6 L512.0,432.8 L513.4,430.0 L514.8,427.3 L516.1,424.7 L517.5,422.2 L518.9,419.8 L520.2,417.7 L521.6,415.7 L522.9,413.9 L524.3,412.3 L525.7,410.9 L527.0,409.7 L528.4,408.7 L529.8,408.0 L531.1,407.4 L532.5,407.0 L533.8,406.8 L535.2,406.8 L536.6,406.9 L537.9,407.3 L539.3,407.8 L540.6,408.6 L542.0,409.5 L543.4,410.7 L544.7,412.0 L546.1,413.6 L547.5,415.5 L548.8,417.5 L550.2,419.8 L551.5,422.4 L552.9,425.1 L554.3,428.1 L555.6,431.4 L557.0,434.9 L558.4,438.6 L559.7,442.5 L561.1,446.7 L562.4,451.0 L563.8,455.5 L565.2,460.1 L566.5,464.8 L567.9,469.4 L569.3,474.1 L570.6,478.7 L572.0,483.2 L573.3,487.5 L574.7,491.6 L576.1,495.6 L577.4,499.3 L578.8,502.7 L580.1,505.9 L581.5,508.8 L582.9,511.4 L584.2,513.9 L585.6,516.1 L587.0,518.3 L588.3,520.4 L589.7,522.5 L591.0,524.6 L592.4,526.7 L593.8,529.0 L595.1,531.2 L596.5,533.5 L597.9,535.8 L599.2,538.0 L600.6,540.2 L601.9,542.4 L603.3,544.4 L604.7,546.2 L606.0,548.0 L607.4,549.5 L608.8,551.0 L610.1,552.2 L611.5,553.3 L612.8,554.3 L614.2,555.2 L615.6,556.0 L616.9,556.6 L618.3,557.2 L619.6,557.7 L621.0,558.1 L622.4,558.5 L623.7,558.8 L625.1,559.1 L626.5,559.4 L627.8,559.7 L629.2,559.9 L630.5,560.2 L631.9,560.5 L633.3,560.8 L634.6,561.0 L636.0,561.3 L637.4,561.6 L638.7,561.9 L640.1,562.2 L641.4,562.4 L642.8,562.7 L644.2,563.0 L645.5,563.3 L646.9,563.6 L648.2,563.9 L649.6,564.1 L651.0,564.4 L652.3,564.7 L653.7,564.9 L655.1,565.2 L656.4,565.4 L657.8,565.7 L659.1,565.9 L660.5,566.1 L661.9,566.3 L663.2,566.5 L664.6,566.7 L666.0,566.9 L667.3,567.0 L668.7,567.2 L670.0,567.4 L671.4,567.5 L672.8,567.7 L674.1,567.8 L675.5,567.9 L676.9,568.0 L678.2,568.1 L679.6,568.2 L680.9,568.3 L682.3,568.4 L683.7,568.5 L685.0,568.6 L686.4,568.7 L687.7,568.7 L689.1,568.8 L690.5,568.9 L691.8,568.9 L693.2,569.0 L694.6,569.0 L695.9,569.0 L697.3,569.1 L698.6,569.1 L700.0,569.1 L701.4,569.1 L702.7,569.2 L704.1,569.2 L705.5,569.2 L706.8,569.2 L708.2,569.2 L709.5,569.2 L710.9,569.2 L712.3,569.2 L713.6,569.2 L715.0,569.2 L716.3,569.2 L717.7,569.2 L719.1,569.2 L720.4,569.2 L721.8,569.2 L723.2,569.2 L724.5,569.2" stroke="#60b858" stroke-width="1.35" fill="none" stroke-linejoin="round"/>
<path d="M438.5,519.9 L439.9,518.9 L441.2,517.5 L442.6,515.9 L443.9,514.1 L445.3,512.1 L446.7,510.0 L448.0,507.8 L449.4,505.5 L450.8,503.2 L452.1,500.8 L453.5,498.5 L454.8,496.3 L456.2,494.1 L457.6,491.9 L458.9,489.8 L460.3,487.7 L461.7,485.5 L463.0,483.3 L464.4,481.1 L465.7,478.9 L467.1,476.7 L468.5,474.8 L469.8,473.0 L471.2,471.5 L472.6,470.2 L473.9,469.2 L475.3,468.3 L476.6,467.6 L478.0,467.1 L479.4,466.7 L480.7,466.4 L482.1,466.1 L483.4,465.9 L484.8,465.7 L486.2,465.4 L487.5,465.2 L488.9,464.8 L490.3,464.3 L491.6,463.6 L493.0,462.7 L494.3,461.4 L495.7,459.7 L497.1,457.6 L498.4,455.2 L499.8,452.4 L501.2,449.4 L502.5,446.3 L503.9,443.1 L505.2,439.9 L506.6,436.8 L508.0,433.7 L509.3,430.8 L510.7,428.0 L512.0,425.3 L513.4,422.6 L514.8,420.2 L516.1,417.8 L517.5,415.5 L518.9,413.4 L520.2,411.5 L521.6,409.6 L522.9,408.0 L524.3,406.5 L525.7,405.1 L527.0,404.0 L528.4,403.0 L529.8,402.2 L531.1,401.7 L532.5,401.4 L533.8,401.3 L535.2,401.5 L536.6,401.9 L537.9,402.7 L539.3,403.9 L540.6,405.4 L542.0,407.3 L543.4,409.7 L544.7,412.5 L546.1,415.7 L547.5,419.4 L548.8,423.4 L550.2,427.7 L551.5,432.2 L552.9,436.7 L554.3,441.3 L555.6,445.8 L557.0,450.3 L558.4,454.9 L559.7,459.7 L561.1,464.8 L562.4,470.1 L563.8,475.6 L565.2,481.2 L566.5,486.9 L567.9,492.5 L569.3,498.0 L570.6,503.3 L572.0,508.5 L573.3,513.4 L574.7,518.1 L576.1,522.6 L577.4,526.9 L578.8,531.1 L580.1,535.0 L581.5,538.8 L582.9,542.4 L584.2,545.8 L585.6,549.0 L587.0,552.1 L588.3,555.0 L589.7,557.7 L591.0,560.2 L592.4,562.5 L593.8,564.7 L595.1,566.6 L596.5,568.4 L597.9,570.0 L599.2,571.4 L600.6,572.7 L601.9,573.7 L603.3,574.7 L604.7,575.5 L606.0,576.2 L607.4,576.8 L608.8,577.3 L610.1,577.7 L611.5,578.1 L612.8,578.4 L614.2,578.7 L615.6,578.9 L616.9,579.2 L618.3,579.2 L619.6,579.2 L621.0,579.2 L622.4,579.2 L623.7,579.2 L625.1,579.2 L626.5,579.2 L627.8,579.2 L629.2,579.2 L630.5,579.2 L631.9,579.2 L633.3,579.2 L634.6,579.2 L636.0,579.2 L637.4,579.2 L638.7,579.2 L640.1,579.2 L641.4,579.2 L642.8,579.2 L644.2,579.2 L645.5,579.2 L646.9,579.2 L648.2,579.2 L649.6,579.2 L651.0,579.2 L652.3,579.2 L653.7,579.2 L655.1,579.2 L656.4,579.2 L657.8,579.2 L659.1,579.2 L660.5,579.2 L661.9,579.2 L663.2,579.2 L664.6,579.2 L666.0,579.2 L667.3,579.2 L668.7,579.2 L670.0,579.2 L671.4,579.2 L672.8,579.2 L674.1,579.2 L675.5,579.2 L676.9,579.2 L678.2,579.2 L679.6,579.2 L680.9,579.2 L682.3,579.2 L683.7,579.2 L685.0,579.2 L686.4,579.2 L687.7,579.2 L689.1,579.2 L690.5,579.2 L691.8,579.2 L693.2,579.2 L694.6,579.2 L695.9,579.2 L697.3,579.2 L698.6,579.2 L700.0,579.2 L701.4,579.2 L702.7,579.2 L704.1,579.2 L705.5,579.2 L706.8,579.2 L708.2,579.2 L709.5,579.2 L710.9,579.2 L712.3,579.2 L713.6,579.2 L715.0,579.2 L716.3,579.2 L717.7,579.2 L719.1,579.2 L720.4,579.2 L721.8,579.1 L723.2,579.0 L724.5,578.9" stroke="#a8469e" stroke-width="1.35" fill="none" stroke-linejoin="round"/>
<path d="M438.5,500.8 L439.9,500.3 L441.2,499.8 L442.6,499.1 L443.9,498.2 L445.3,497.2 L446.7,496.0 L448.0,494.6 L449.4,493.0 L450.8,491.2 L452.1,489.3 L453.5,487.3 L454.8,485.3 L456.2,483.4 L457.6,481.5 L458.9,479.8 L460.3,478.2 L461.7,476.6 L463.0,475.2 L464.4,473.9 L465.7,472.6 L467.1,471.4 L468.5,470.3 L469.8,469.2 L471.2,468.3 L472.6,467.5 L473.9,466.8 L475.3,466.4 L476.6,466.3 L478.0,466.4 L479.4,466.7 L480.7,467.4 L482.1,468.2 L483.4,469.3 L484.8,470.4 L486.2,471.6 L487.5,472.7 L488.9,473.7 L490.3,474.4 L491.6,474.9 L493.0,475.1 L494.3,474.9 L495.7,474.3 L497.1,473.1 L498.4,471.5 L499.8,469.3 L501.2,466.7 L502.5,463.6 L503.9,460.3 L505.2,456.7 L506.6,452.9 L508.0,449.2 L509.3,445.6 L510.7,442.1 L512.0,438.9 L513.4,435.9 L514.8,433.1 L516.1,430.5 L517.5,428.0 L518.9,425.7 L520.2,423.5 L521.6,421.3 L522.9,419.2 L524.3,417.0 L525.7,414.8 L527.0,412.7 L528.4,410.6 L529.8,408.6 L531.1,406.7 L532.5,405.0 L533.8,403.6 L535.2,402.5 L536.6,401.8 L537.9,401.4 L539.3,401.4 L540.6,401.8 L542.0,402.6 L543.4,403.7 L544.7,405.1 L546.1,406.8 L547.5,408.8 L548.8,410.9 L550.2,413.3 L551.5,415.9 L552.9,418.6 L554.3,421.6 L555.6,424.8 L557.0,428.4 L558.4,432.2 L559.7,436.5 L561.1,441.3 L562.4,446.5 L563.8,452.1 L565.2,458.1 L566.5,464.5 L567.9,471.0 L569.3,477.7 L570.6,484.4 L572.0,491.0 L573.3,497.5 L574.7,503.8 L576.1,509.8 L577.4,515.5 L578.8,520.9 L580.1,526.0 L581.5,530.8 L582.9,535.2 L584.2,539.2 L585.6,542.8 L587.0,546.1 L588.3,549.1 L589.7,551.7 L591.0,554.1 L592.4,556.2 L593.8,558.1 L595.1,559.7 L596.5,561.2 L597.9,562.5 L599.2,563.6 L600.6,564.7 L601.9,565.6 L603.3,566.4 L604.7,567.0 L606.0,567.6 L607.4,568.2 L608.8,568.6 L610.1,568.9 L611.5,569.3 L612.8,569.5 L614.2,569.7 L615.6,569.9 L616.9,570.0 L618.3,570.2 L619.6,570.3 L621.0,570.4 L622.4,570.5 L623.7,570.6 L625.1,570.7 L626.5,570.9 L627.8,571.0 L629.2,571.1 L630.5,571.2 L631.9,571.4 L633.3,571.5 L634.6,571.6 L636.0,571.8 L637.4,571.9 L638.7,572.1 L640.1,572.2 L641.4,572.4 L642.8,572.5 L644.2,572.7 L645.5,572.8 L646.9,573.0 L648.2,573.1 L649.6,573.2 L651.0,573.4 L652.3,573.5 L653.7,573.7 L655.1,573.8 L656.4,574.0 L657.8,574.1 L659.1,574.3 L660.5,574.4 L661.9,574.5 L663.2,574.7 L664.6,574.8 L666.0,574.9 L667.3,575.0 L668.7,575.1 L670.0,575.3 L671.4,575.4 L672.8,575.5 L674.1,575.6 L675.5,575.7 L676.9,575.8 L678.2,575.9 L679.6,576.0 L680.9,576.1 L682.3,576.1 L683.7,576.2 L685.0,576.3 L686.4,576.4 L687.7,576.5 L689.1,576.5 L690.5,576.6 L691.8,576.7 L693.2,576.7 L694.6,576.8 L695.9,576.9 L697.3,576.9 L698.6,577.0 L700.0,577.1 L701.4,577.1 L702.7,577.2 L704.1,577.2 L705.5,577.3 L706.8,577.3 L708.2,577.4 L709.5,577.4 L710.9,577.5 L712.3,577.5 L713.6,577.6 L715.0,577.6 L716.3,577.7 L717.7,577.7 L719.1,577.8 L720.4,577.8 L721.8,577.9 L723.2,577.9 L724.5,577.9" stroke="#ac3e48" stroke-width="1.35" fill="none" stroke-linejoin="round"/>
<path d="M438.5,492.8 L439.9,492.6 L441.2,492.3 L442.6,492.0 L443.9,491.6 L445.3,491.3 L446.7,490.9 L448.0,490.5 L449.4,490.1 L450.8,489.7 L452.1,489.2 L453.5,488.8 L454.8,488.3 L456.2,487.8 L457.6,487.2 L458.9,486.7 L460.3,486.1 L461.7,485.6 L463.0,485.0 L464.4,484.4 L465.7,483.9 L467.1,483.4 L468.5,482.9 L469.8,482.5 L471.2,482.1 L472.6,481.8 L473.9,481.5 L475.3,481.4 L476.6,481.3 L478.0,481.3 L479.4,481.3 L480.7,481.5 L482.1,481.8 L483.4,482.1 L484.8,482.4 L486.2,482.8 L487.5,483.2 L488.9,483.6 L490.3,483.9 L491.6,484.2 L493.0,484.5 L494.3,484.6 L495.7,484.7 L497.1,484.7 L498.4,484.6 L499.8,484.5 L501.2,484.3 L502.5,484.0 L503.9,483.7 L505.2,483.3 L506.6,482.9 L508.0,482.5 L509.3,482.0 L510.7,481.5 L512.0,481.0 L513.4,480.5 L514.8,479.9 L516.1,479.3 L517.5,478.7 L518.9,478.0 L520.2,477.3 L521.6,476.5 L522.9,475.7 L524.3,474.8 L525.7,473.8 L527.0,472.7 L528.4,471.5 L529.8,470.3 L531.1,468.9 L532.5,467.5 L533.8,466.1 L535.2,464.6 L536.6,463.1 L537.9,461.6 L539.3,460.2 L540.6,458.8 L542.0,457.4 L543.4,456.2 L544.7,455.0 L546.1,453.9 L547.5,452.9 L548.8,452.1 L550.2,451.3 L551.5,450.7 L552.9,450.2 L554.3,449.8 L555.6,449.6 L557.0,449.4 L558.4,449.3 L559.7,449.3 L561.1,449.4 L562.4,449.5 L563.8,449.7 L565.2,450.0 L566.5,450.3 L567.9,450.8 L569.3,451.3 L570.6,452.0 L572.0,452.7 L573.3,453.6 L574.7,454.6 L576.1,455.7 L577.4,457.0 L578.8,458.5 L580.1,460.1 L581.5,461.9 L582.9,463.9 L584.2,466.2 L585.6,468.7 L587.0,471.4 L588.3,474.3 L589.7,477.4 L591.0,480.7 L592.4,483.9 L593.8,487.2 L595.1,490.5 L596.5,493.7 L597.9,496.8 L599.2,499.8 L600.6,502.7 L601.9,505.6 L603.3,508.3 L604.7,511.0 L606.0,513.6 L607.4,516.2 L608.8,518.7 L610.1,521.1 L611.5,523.5 L612.8,525.9 L614.2,528.2 L615.6,530.5 L616.9,532.7 L618.3,534.9 L619.6,537.0 L621.0,539.1 L622.4,541.1 L623.7,543.1 L625.1,545.0 L626.5,546.8 L627.8,548.5 L629.2,550.1 L630.5,551.7 L631.9,553.2 L633.3,554.5 L634.6,555.9 L636.0,557.1 L637.4,558.3 L638.7,559.4 L640.1,560.4 L641.4,561.4 L642.8,562.3 L644.2,563.2 L645.5,564.0 L646.9,564.8 L648.2,565.5 L649.6,566.1 L651.0,566.8 L652.3,567.4 L653.7,567.9 L655.1,568.4 L656.4,568.9 L657.8,569.3 L659.1,569.7 L660.5,570.1 L661.9,570.4 L663.2,570.8 L664.6,571.1 L666.0,571.4 L667.3,571.6 L668.7,571.9 L670.0,572.1 L671.4,572.3 L672.8,572.5 L674.1,572.7 L675.5,572.9 L676.9,573.1 L678.2,573.2 L679.6,573.4 L680.9,573.6 L682.3,573.7 L683.7,573.9 L685.0,574.0 L686.4,574.2 L687.7,574.3 L689.1,574.4 L690.5,574.5 L691.8,574.6 L693.2,574.8 L694.6,574.9 L695.9,575.0 L697.3,575.1 L698.6,575.2 L700.0,575.2 L701.4,575.3 L702.7,575.4 L704.1,575.5 L705.5,575.6 L706.8,575.6 L708.2,575.7 L709.5,575.8 L710.9,575.9 L712.3,575.9 L713.6,576.0 L715.0,576.0 L716.3,576.1 L717.7,576.2 L719.1,576.2 L720.4,576.3 L721.8,576.3 L723.2,576.4 L724.5,576.4" stroke="#2c3278" stroke-width="1.35" fill="none" stroke-linejoin="round"/>
<path d="M438.5,513.8 L439.9,514.3 L441.2,514.9 L442.6,515.6 L443.9,516.4 L445.3,517.1 L446.7,517.8 L448.0,518.4 L449.4,519.0 L450.8,519.5 L452.1,519.8 L453.5,520.1 L454.8,520.2 L456.2,520.2 L457.6,520.1 L458.9,519.8 L460.3,519.3 L461.7,518.7 L463.0,518.0 L464.4,517.2 L465.7,516.4 L467.1,515.4 L468.5,514.4 L469.8,513.3 L471.2,512.2 L472.6,511.1 L473.9,509.9 L475.3,508.8 L476.6,507.6 L478.0,506.5 L479.4,505.4 L480.7,504.3 L482.1,503.2 L483.4,502.2 L484.8,501.2 L486.2,500.3 L487.5,499.5 L488.9,498.7 L490.3,497.9 L491.6,497.3 L493.0,496.6 L494.3,496.0 L495.7,495.5 L497.1,495.0 L498.4,494.6 L499.8,494.2 L501.2,493.8 L502.5,493.5 L503.9,493.2 L505.2,492.9 L506.6,492.7 L508.0,492.4 L509.3,492.2 L510.7,492.0 L512.0,491.7 L513.4,491.5 L514.8,491.2 L516.1,490.9 L517.5,490.6 L518.9,490.3 L520.2,490.0 L521.6,489.7 L522.9,489.4 L524.3,489.1 L525.7,488.8 L527.0,488.6 L528.4,488.4 L529.8,488.2 L531.1,488.1 L532.5,488.1 L533.8,488.1 L535.2,488.2 L536.6,488.3 L537.9,488.6 L539.3,488.9 L540.6,489.2 L542.0,489.6 L543.4,490.1 L544.7,490.6 L546.1,491.2 L547.5,491.8 L548.8,492.4 L550.2,493.1 L551.5,493.8 L552.9,494.6 L554.3,495.4 L555.6,496.3 L557.0,497.1 L558.4,498.0 L559.7,499.0 L561.1,499.9 L562.4,500.9 L563.8,501.9 L565.2,503.0 L566.5,504.1 L567.9,505.2 L569.3,506.3 L570.6,507.5 L572.0,508.7 L573.3,509.9 L574.7,511.1 L576.1,512.4 L577.4,513.7 L578.8,515.0 L580.1,516.3 L581.5,517.6 L582.9,519.0 L584.2,520.3 L585.6,521.7 L587.0,523.1 L588.3,524.5 L589.7,525.8 L591.0,527.2 L592.4,528.6 L593.8,530.0 L595.1,531.4 L596.5,532.8 L597.9,534.1 L599.2,535.5 L600.6,536.8 L601.9,538.2 L603.3,539.5 L604.7,540.8 L606.0,542.0 L607.4,543.3 L608.8,544.5 L610.1,545.7 L611.5,546.9 L612.8,548.1 L614.2,549.2 L615.6,550.4 L616.9,551.5 L618.3,552.5 L619.6,553.6 L621.0,554.6 L622.4,555.6 L623.7,556.6 L625.1,557.6 L626.5,558.5 L627.8,559.4 L629.2,560.3 L630.5,561.2 L631.9,562.0 L633.3,562.8 L634.6,563.6 L636.0,564.4 L637.4,565.1 L638.7,565.8 L640.1,566.5 L641.4,567.2 L642.8,567.8 L644.2,568.4 L645.5,569.0 L646.9,569.6 L648.2,570.1 L649.6,570.6 L651.0,571.1 L652.3,571.5 L653.7,571.9 L655.1,572.3 L656.4,572.7 L657.8,573.1 L659.1,573.4 L660.5,573.7 L661.9,574.0 L663.2,574.3 L664.6,574.5 L666.0,574.7 L667.3,574.9 L668.7,575.1 L670.0,575.3 L671.4,575.5 L672.8,575.7 L674.1,575.8 L675.5,575.9 L676.9,576.1 L678.2,576.2 L679.6,576.3 L680.9,576.4 L682.3,576.5 L683.7,576.6 L685.0,576.7 L686.4,576.8 L687.7,576.9 L689.1,576.9 L690.5,577.0 L691.8,577.1 L693.2,577.1 L694.6,577.2 L695.9,577.3 L697.3,577.3 L698.6,577.4 L700.0,577.4 L701.4,577.5 L702.7,577.5 L704.1,577.5 L705.5,577.6 L706.8,577.6 L708.2,577.7 L709.5,577.7 L710.9,577.7 L712.3,577.7 L713.6,577.8 L715.0,577.8 L716.3,577.8 L717.7,577.8 L719.1,577.9 L720.4,577.9 L721.8,577.9 L723.2,577.9 L724.5,577.9" stroke="#262626" stroke-width="1.35" fill="none" stroke-linejoin="round"/>
<path d="M438.50,365.80 V578.80 H724.52" stroke="#3a3a3a" stroke-width="1.25" fill="none"/>
<path d="M438.50,578.80 H434.00" stroke="#3a3a3a" stroke-width="1.1"/>
<text x="0" y="0" font-size="9.6" text-anchor="end" fill="#2a2a2a" transform="translate(431.70,581.10) scale(0.83,1)">0,0</text>
<path d="M438.50,557.50 H436.00" stroke="#3a3a3a" stroke-width="1.1"/>
<path d="M438.50,536.20 H434.00" stroke="#3a3a3a" stroke-width="1.1"/>
<text x="0" y="0" font-size="9.6" text-anchor="end" fill="#2a2a2a" transform="translate(431.70,538.50) scale(0.83,1)">0,1</text>
<path d="M438.50,514.90 H436.00" stroke="#3a3a3a" stroke-width="1.1"/>
<path d="M438.50,493.60 H434.00" stroke="#3a3a3a" stroke-width="1.1"/>
<text x="0" y="0" font-size="9.6" text-anchor="end" fill="#2a2a2a" transform="translate(431.70,495.90) scale(0.83,1)">0,2</text>
<path d="M438.50,472.30 H436.00" stroke="#3a3a3a" stroke-width="1.1"/>
<path d="M438.50,451.00 H434.00" stroke="#3a3a3a" stroke-width="1.1"/>
<text x="0" y="0" font-size="9.6" text-anchor="end" fill="#2a2a2a" transform="translate(431.70,453.30) scale(0.83,1)">0,3</text>
<path d="M438.50,429.70 H436.00" stroke="#3a3a3a" stroke-width="1.1"/>
<path d="M438.50,408.40 H434.00" stroke="#3a3a3a" stroke-width="1.1"/>
<text x="0" y="0" font-size="9.6" text-anchor="end" fill="#2a2a2a" transform="translate(431.70,410.70) scale(0.83,1)">0,4</text>
<path d="M438.50,387.10 H436.00" stroke="#3a3a3a" stroke-width="1.1"/>
<path d="M438.50,365.80 H434.00" stroke="#3a3a3a" stroke-width="1.1"/>
<text x="0" y="0" font-size="9.6" text-anchor="end" fill="#2a2a2a" transform="translate(431.70,368.10) scale(0.83,1)">0,5</text>
<path d="M452.12,578.80 V583.30" stroke="#3a3a3a" stroke-width="1.1"/>
<text x="0" y="0" font-size="10" text-anchor="middle" fill="#2a2a2a" transform="translate(452.12,593.00) scale(0.8,1)">300</text>
<path d="M520.22,578.80 V581.30" stroke="#3a3a3a" stroke-width="1.1"/>
<path d="M588.32,578.80 V583.30" stroke="#3a3a3a" stroke-width="1.1"/>
<text x="0" y="0" font-size="10" text-anchor="middle" fill="#2a2a2a" transform="translate(588.32,593.00) scale(0.8,1)">400</text>
<path d="M656.42,578.80 V581.30" stroke="#3a3a3a" stroke-width="1.1"/>
<path d="M724.52,578.80 V583.30" stroke="#3a3a3a" stroke-width="1.1"/>
<text x="0" y="0" font-size="10" text-anchor="middle" fill="#2a2a2a" transform="translate(724.52,593.00) scale(0.8,1)">500</text>
<text x="581.51" y="609.30" font-size="10.4" text-anchor="middle" fill="#222">Wavelength (nm)</text>
<text x="0" y="0" font-size="10.3" text-anchor="middle" fill="#222" transform="translate(404.50,473.30) rotate(-90)">Absorbance</text>
<path d="M827.7,498.5 L829.1,498.9 L830.4,499.5 L831.8,500.2 L833.1,500.9 L834.5,501.7 L835.9,502.5 L837.2,503.2 L838.6,504.0 L840.0,504.7 L841.3,505.3 L842.7,505.9 L844.0,506.3 L845.4,506.7 L846.8,506.9 L848.1,507.1 L849.5,507.1 L850.9,507.1 L852.2,507.0 L853.6,506.9 L854.9,506.7 L856.3,506.5 L857.7,506.4 L859.0,506.2 L860.4,506.1 L861.8,506.0 L863.1,506.0 L864.5,506.0 L865.8,506.1 L867.2,506.3 L868.6,506.5 L869.9,506.8 L871.3,507.1 L872.6,507.4 L874.0,507.7 L875.4,508.0 L876.7,508.3 L878.1,508.6 L879.5,508.8 L880.8,509.0 L882.2,509.0 L883.5,509.0 L884.9,509.0 L886.3,508.8 L887.6,508.6 L889.0,508.3 L890.4,507.9 L891.7,507.5 L893.1,507.0 L894.4,506.5 L895.8,505.9 L897.2,505.3 L898.5,504.8 L899.9,504.2 L901.2,503.6 L902.6,503.1 L904.0,502.6 L905.3,502.1 L906.7,501.6 L908.1,501.3 L909.4,500.9 L910.8,500.7 L912.1,500.5 L913.5,500.5 L914.9,500.5 L916.2,500.6 L917.6,500.9 L919.0,501.2 L920.3,501.7 L921.7,502.3 L923.0,503.0 L924.4,503.7 L925.8,504.6 L927.1,505.5 L928.5,506.5 L929.9,507.5 L931.2,508.6 L932.6,509.8 L933.9,511.0 L935.3,512.2 L936.7,513.5 L938.0,514.9 L939.4,516.3 L940.7,517.8 L942.1,519.4 L943.5,521.0 L944.8,522.7 L946.2,524.4 L947.6,526.2 L948.9,528.0 L950.3,529.8 L951.6,531.7 L953.0,533.6 L954.4,535.5 L955.7,537.5 L957.1,539.4 L958.5,541.3 L959.8,543.3 L961.2,545.2 L962.5,547.1 L963.9,548.9 L965.3,550.7 L966.6,552.3 L968.0,553.9 L969.3,555.4 L970.7,556.7 L972.1,558.0 L973.4,559.2 L974.8,560.4 L976.2,561.4 L977.5,562.4 L978.9,563.3 L980.2,564.1 L981.6,564.9 L983.0,565.6 L984.3,566.3 L985.7,566.9 L987.1,567.5 L988.4,568.1 L989.8,568.5 L991.1,569.0 L992.5,569.4 L993.9,569.8 L995.2,570.2 L996.6,570.5 L998.0,570.8 L999.3,571.1 L1000.7,571.4 L1002.0,571.7 L1003.4,571.9 L1004.8,572.2 L1006.1,572.4 L1007.5,572.7 L1008.8,572.9 L1010.2,573.1 L1011.6,573.3 L1012.9,573.5 L1014.3,573.7 L1015.7,573.9 L1017.0,574.1 L1018.4,574.2 L1019.7,574.4 L1021.1,574.6 L1022.5,574.7 L1023.8,574.9 L1025.2,575.0 L1026.6,575.2 L1027.9,575.3 L1029.3,575.4 L1030.6,575.5 L1032.0,575.7 L1033.4,575.8 L1034.7,575.9 L1036.1,576.0 L1037.4,576.1 L1038.8,576.2 L1040.2,576.2 L1041.5,576.3 L1042.9,576.4 L1044.3,576.5 L1045.6,576.5 L1047.0,576.6 L1048.3,576.6 L1049.7,576.7 L1051.1,576.7 L1052.4,576.8 L1053.8,576.8 L1055.2,576.8 L1056.5,576.9 L1057.9,576.9 L1059.2,576.9 L1060.6,576.9 L1062.0,576.9 L1063.3,576.9 L1064.7,577.0 L1066.1,577.0 L1067.4,577.0 L1068.8,577.0 L1070.1,576.9 L1071.5,576.9 L1072.9,576.9 L1074.2,576.9 L1075.6,576.9 L1076.9,576.9 L1078.3,576.9 L1079.7,576.8 L1081.0,576.8 L1082.4,576.8 L1083.8,576.7 L1085.1,576.7 L1086.5,576.7 L1087.8,576.6 L1089.2,576.6 L1090.6,576.6 L1091.9,576.5 L1093.3,576.5 L1094.7,576.4 L1096.0,576.4 L1097.4,576.3 L1098.7,576.3 L1100.1,576.2 L1101.5,576.2 L1102.8,576.1 L1104.2,576.1 L1105.5,576.0 L1106.9,576.0 L1108.3,575.9 L1109.6,575.9 L1111.0,575.8 L1112.4,575.8 L1113.7,575.7" stroke="#ebe462" stroke-width="1.35" fill="none" stroke-linejoin="round"/>
<path d="M827.7,466.7 L829.1,466.8 L830.4,466.9 L831.8,467.0 L833.1,467.1 L834.5,467.3 L835.9,467.4 L837.2,467.5 L838.6,467.7 L840.0,467.9 L841.3,468.0 L842.7,468.2 L844.0,468.4 L845.4,468.6 L846.8,468.8 L848.1,468.9 L849.5,469.1 L850.9,469.1 L852.2,469.2 L853.6,469.2 L854.9,469.1 L856.3,468.9 L857.7,468.7 L859.0,468.3 L860.4,467.8 L861.8,467.3 L863.1,466.5 L864.5,465.7 L865.8,464.7 L867.2,463.5 L868.6,462.2 L869.9,460.7 L871.3,459.1 L872.6,457.5 L874.0,455.8 L875.4,454.1 L876.7,452.5 L878.1,451.0 L879.5,449.7 L880.8,448.5 L882.2,447.6 L883.5,447.0 L884.9,446.8 L886.3,446.8 L887.6,447.2 L889.0,447.9 L890.4,448.9 L891.7,450.1 L893.1,451.5 L894.4,453.2 L895.8,455.3 L897.2,457.8 L898.5,460.9 L899.9,464.7 L901.2,469.0 L902.6,473.9 L904.0,479.0 L905.3,484.4 L906.7,489.7 L908.1,494.9 L909.4,499.9 L910.8,504.5 L912.1,508.9 L913.5,513.0 L914.9,516.8 L916.2,520.4 L917.6,523.7 L919.0,526.8 L920.3,529.7 L921.7,532.4 L923.0,534.8 L924.4,537.1 L925.8,539.2 L927.1,541.2 L928.5,542.9 L929.9,544.6 L931.2,546.0 L932.6,547.4 L933.9,548.7 L935.3,549.8 L936.7,550.9 L938.0,551.9 L939.4,552.8 L940.7,553.7 L942.1,554.5 L943.5,555.3 L944.8,556.1 L946.2,556.8 L947.6,557.4 L948.9,558.1 L950.3,558.7 L951.6,559.2 L953.0,559.8 L954.4,560.3 L955.7,560.7 L957.1,561.2 L958.5,561.6 L959.8,562.0 L961.2,562.4 L962.5,562.8 L963.9,563.1 L965.3,563.4 L966.6,563.7 L968.0,564.0 L969.3,564.3 L970.7,564.6 L972.1,564.8 L973.4,565.1 L974.8,565.3 L976.2,565.5 L977.5,565.7 L978.9,566.0 L980.2,566.2 L981.6,566.4 L983.0,566.6 L984.3,566.8 L985.7,567.0 L987.1,567.2 L988.4,567.3 L989.8,567.5 L991.1,567.7 L992.5,567.9 L993.9,568.0 L995.2,568.2 L996.6,568.4 L998.0,568.5 L999.3,568.7 L1000.7,568.8 L1002.0,569.0 L1003.4,569.1 L1004.8,569.3 L1006.1,569.4 L1007.5,569.6 L1008.8,569.7 L1010.2,569.8 L1011.6,570.0 L1012.9,570.1 L1014.3,570.2 L1015.7,570.3 L1017.0,570.4 L1018.4,570.6 L1019.7,570.7 L1021.1,570.8 L1022.5,570.9 L1023.8,571.0 L1025.2,571.1 L1026.6,571.2 L1027.9,571.3 L1029.3,571.4 L1030.6,571.5 L1032.0,571.6 L1033.4,571.6 L1034.7,571.7 L1036.1,571.8 L1037.4,571.9 L1038.8,572.0 L1040.2,572.1 L1041.5,572.1 L1042.9,572.2 L1044.3,572.3 L1045.6,572.3 L1047.0,572.4 L1048.3,572.5 L1049.7,572.5 L1051.1,572.6 L1052.4,572.7 L1053.8,572.7 L1055.2,572.8 L1056.5,572.8 L1057.9,572.9 L1059.2,572.9 L1060.6,573.0 L1062.0,573.0 L1063.3,573.1 L1064.7,573.1 L1066.1,573.2 L1067.4,573.2 L1068.8,573.3 L1070.1,573.3 L1071.5,573.3 L1072.9,573.4 L1074.2,573.4 L1075.6,573.4 L1076.9,573.5 L1078.3,573.5 L1079.7,573.5 L1081.0,573.6 L1082.4,573.6 L1083.8,573.6 L1085.1,573.7 L1086.5,573.7 L1087.8,573.7 L1089.2,573.8 L1090.6,573.8 L1091.9,573.8 L1093.3,573.8 L1094.7,573.9 L1096.0,573.9 L1097.4,573.9 L1098.7,573.9 L1100.1,574.0 L1101.5,574.0 L1102.8,574.0 L1104.2,574.0 L1105.5,574.0 L1106.9,574.1 L1108.3,574.1 L1109.6,574.1 L1111.0,574.1 L1112.4,574.1 L1113.7,574.1" stroke="#68c8d8" stroke-width="1.35" fill="none" stroke-linejoin="round"/>
<path d="M827.7,506.1 L829.1,505.3 L830.4,504.2 L831.8,503.0 L833.1,501.7 L834.5,500.3 L835.9,498.9 L837.2,497.5 L838.6,496.1 L840.0,494.7 L841.3,493.3 L842.7,491.8 L844.0,490.4 L845.4,489.0 L846.8,487.6 L848.1,486.2 L849.5,484.8 L850.9,483.4 L852.2,482.1 L853.6,480.7 L854.9,479.5 L856.3,478.2 L857.7,477.1 L859.0,476.0 L860.4,475.0 L861.8,474.0 L863.1,473.2 L864.5,472.5 L865.8,472.0 L867.2,471.5 L868.6,471.2 L869.9,471.0 L871.3,471.0 L872.6,471.0 L874.0,471.1 L875.4,471.2 L876.7,471.3 L878.1,471.4 L879.5,471.4 L880.8,471.3 L882.2,471.1 L883.5,470.6 L884.9,469.9 L886.3,468.9 L887.6,467.4 L889.0,465.6 L890.4,463.3 L891.7,460.7 L893.1,457.7 L894.4,454.6 L895.8,451.4 L897.2,448.2 L898.5,445.2 L899.9,442.2 L901.2,439.4 L902.6,436.7 L904.0,434.3 L905.3,432.0 L906.7,429.9 L908.1,427.9 L909.4,426.2 L910.8,424.7 L912.1,423.4 L913.5,422.3 L914.9,421.4 L916.2,420.7 L917.6,420.1 L919.0,419.7 L920.3,419.5 L921.7,419.3 L923.0,419.4 L924.4,419.6 L925.8,419.9 L927.1,420.4 L928.5,421.0 L929.9,421.8 L931.2,422.8 L932.6,424.0 L933.9,425.4 L935.3,427.0 L936.7,428.8 L938.0,430.8 L939.4,433.1 L940.7,435.6 L942.1,438.3 L943.5,441.3 L944.8,444.4 L946.2,447.8 L947.6,451.5 L948.9,455.3 L950.3,459.3 L951.6,463.5 L953.0,467.8 L954.4,472.2 L955.7,476.6 L957.1,481.0 L958.5,485.4 L959.8,489.7 L961.2,493.9 L962.5,497.9 L963.9,501.8 L965.3,505.5 L966.6,509.1 L968.0,512.6 L969.3,515.9 L970.7,519.1 L972.1,522.2 L973.4,525.1 L974.8,528.0 L976.2,530.7 L977.5,533.3 L978.9,535.7 L980.2,538.0 L981.6,540.2 L983.0,542.2 L984.3,544.1 L985.7,545.8 L987.1,547.4 L988.4,548.9 L989.8,550.3 L991.1,551.6 L992.5,552.8 L993.9,553.9 L995.2,554.9 L996.6,555.9 L998.0,556.8 L999.3,557.6 L1000.7,558.4 L1002.0,559.1 L1003.4,559.8 L1004.8,560.4 L1006.1,561.0 L1007.5,561.5 L1008.8,562.0 L1010.2,562.5 L1011.6,562.9 L1012.9,563.3 L1014.3,563.6 L1015.7,564.0 L1017.0,564.3 L1018.4,564.6 L1019.7,564.8 L1021.1,565.1 L1022.5,565.3 L1023.8,565.5 L1025.2,565.7 L1026.6,565.9 L1027.9,566.1 L1029.3,566.3 L1030.6,566.4 L1032.0,566.6 L1033.4,566.8 L1034.7,566.9 L1036.1,567.1 L1037.4,567.2 L1038.8,567.4 L1040.2,567.5 L1041.5,567.6 L1042.9,567.8 L1044.3,567.9 L1045.6,568.0 L1047.0,568.1 L1048.3,568.2 L1049.7,568.3 L1051.1,568.4 L1052.4,568.5 L1053.8,568.6 L1055.2,568.7 L1056.5,568.8 L1057.9,568.9 L1059.2,569.0 L1060.6,569.1 L1062.0,569.1 L1063.3,569.2 L1064.7,569.3 L1066.1,569.4 L1067.4,569.4 L1068.8,569.5 L1070.1,569.6 L1071.5,569.6 L1072.9,569.7 L1074.2,569.7 L1075.6,569.8 L1076.9,569.9 L1078.3,569.9 L1079.7,570.0 L1081.0,570.0 L1082.4,570.1 L1083.8,570.1 L1085.1,570.2 L1086.5,570.2 L1087.8,570.3 L1089.2,570.3 L1090.6,570.4 L1091.9,570.4 L1093.3,570.5 L1094.7,570.5 L1096.0,570.6 L1097.4,570.6 L1098.7,570.7 L1100.1,570.7 L1101.5,570.8 L1102.8,570.8 L1104.2,570.8 L1105.5,570.9 L1106.9,570.9 L1108.3,571.0 L1109.6,571.0 L1111.0,571.1 L1112.4,571.1 L1113.7,571.1" stroke="#60b858" stroke-width="1.35" fill="none" stroke-linejoin="round"/>
<path d="M827.7,513.3 L829.1,512.4 L830.4,511.1 L831.8,509.6 L833.1,508.0 L834.5,506.2 L835.9,504.3 L837.2,502.3 L838.6,500.2 L840.0,498.0 L841.3,495.7 L842.7,493.4 L844.0,491.0 L845.4,488.6 L846.8,486.3 L848.1,484.0 L849.5,481.9 L850.9,479.8 L852.2,477.9 L853.6,476.1 L854.9,474.4 L856.3,472.9 L857.7,471.5 L859.0,470.3 L860.4,469.2 L861.8,468.2 L863.1,467.4 L864.5,466.6 L865.8,466.1 L867.2,465.6 L868.6,465.3 L869.9,465.1 L871.3,464.9 L872.6,464.8 L874.0,464.7 L875.4,464.4 L876.7,464.0 L878.1,463.3 L879.5,462.4 L880.8,461.3 L882.2,460.0 L883.5,458.5 L884.9,456.8 L886.3,455.0 L887.6,453.0 L889.0,451.0 L890.4,448.7 L891.7,446.4 L893.1,443.8 L894.4,441.2 L895.8,438.4 L897.2,435.5 L898.5,432.5 L899.9,429.5 L901.2,426.6 L902.6,423.7 L904.0,420.9 L905.3,418.2 L906.7,415.8 L908.1,413.5 L909.4,411.4 L910.8,409.6 L912.1,408.0 L913.5,406.5 L914.9,405.4 L916.2,404.5 L917.6,403.8 L919.0,403.4 L920.3,403.2 L921.7,403.3 L923.0,403.7 L924.4,404.3 L925.8,405.2 L927.1,406.4 L928.5,407.8 L929.9,409.4 L931.2,411.2 L932.6,413.3 L933.9,415.7 L935.3,418.2 L936.7,421.0 L938.0,424.0 L939.4,427.2 L940.7,430.7 L942.1,434.5 L943.5,438.5 L944.8,442.9 L946.2,447.6 L947.6,452.6 L948.9,457.9 L950.3,463.4 L951.6,469.2 L953.0,475.1 L954.4,481.0 L955.7,486.9 L957.1,492.6 L958.5,498.2 L959.8,503.5 L961.2,508.6 L962.5,513.5 L963.9,518.1 L965.3,522.5 L966.6,526.7 L968.0,530.6 L969.3,534.3 L970.7,537.8 L972.1,541.1 L973.4,544.2 L974.8,547.1 L976.2,549.7 L977.5,552.2 L978.9,554.5 L980.2,556.6 L981.6,558.6 L983.0,560.3 L984.3,562.0 L985.7,563.5 L987.1,564.8 L988.4,566.1 L989.8,567.2 L991.1,568.1 L992.5,569.0 L993.9,569.8 L995.2,570.5 L996.6,571.1 L998.0,571.6 L999.3,572.1 L1000.7,572.5 L1002.0,572.8 L1003.4,573.1 L1004.8,573.4 L1006.1,573.6 L1007.5,573.8 L1008.8,574.0 L1010.2,574.1 L1011.6,574.2 L1012.9,574.4 L1014.3,574.5 L1015.7,574.6 L1017.0,574.8 L1018.4,574.9 L1019.7,575.0 L1021.1,575.1 L1022.5,575.2 L1023.8,575.3 L1025.2,575.4 L1026.6,575.5 L1027.9,575.6 L1029.3,575.7 L1030.6,575.8 L1032.0,575.9 L1033.4,575.9 L1034.7,576.0 L1036.1,576.1 L1037.4,576.2 L1038.8,576.2 L1040.2,576.3 L1041.5,576.4 L1042.9,576.4 L1044.3,576.5 L1045.6,576.5 L1047.0,576.6 L1048.3,576.6 L1049.7,576.7 L1051.1,576.7 L1052.4,576.8 L1053.8,576.8 L1055.2,576.9 L1056.5,576.9 L1057.9,576.9 L1059.2,577.0 L1060.6,577.0 L1062.0,577.0 L1063.3,577.0 L1064.7,577.1 L1066.1,577.1 L1067.4,577.1 L1068.8,577.1 L1070.1,577.1 L1071.5,577.1 L1072.9,577.2 L1074.2,577.2 L1075.6,577.2 L1076.9,577.2 L1078.3,577.2 L1079.7,577.2 L1081.0,577.2 L1082.4,577.2 L1083.8,577.2 L1085.1,577.2 L1086.5,577.2 L1087.8,577.2 L1089.2,577.2 L1090.6,577.2 L1091.9,577.2 L1093.3,577.2 L1094.7,577.1 L1096.0,577.1 L1097.4,577.1 L1098.7,577.1 L1100.1,577.1 L1101.5,577.1 L1102.8,577.1 L1104.2,577.1 L1105.5,577.1 L1106.9,577.0 L1108.3,577.0 L1109.6,577.0 L1111.0,577.0 L1112.4,577.0 L1113.7,577.0" stroke="#a8469e" stroke-width="1.35" fill="none" stroke-linejoin="round"/>
<path d="M827.7,491.9 L829.1,491.9 L830.4,491.9 L831.8,491.8 L833.1,491.6 L834.5,491.3 L835.9,490.8 L837.2,490.2 L838.6,489.4 L840.0,488.4 L841.3,487.2 L842.7,486.0 L844.0,484.6 L845.4,483.1 L846.8,481.6 L848.1,480.1 L849.5,478.6 L850.9,477.1 L852.2,475.8 L853.6,474.5 L854.9,473.3 L856.3,472.2 L857.7,471.3 L859.0,470.5 L860.4,469.9 L861.8,469.5 L863.1,469.3 L864.5,469.3 L865.8,469.5 L867.2,470.0 L868.6,470.6 L869.9,471.3 L871.3,472.2 L872.6,473.1 L874.0,474.0 L875.4,474.8 L876.7,475.4 L878.1,475.9 L879.5,476.1 L880.8,476.0 L882.2,475.7 L883.5,475.0 L884.9,474.0 L886.3,472.8 L887.6,471.4 L889.0,469.7 L890.4,467.9 L891.7,465.8 L893.1,463.6 L894.4,461.2 L895.8,458.5 L897.2,455.7 L898.5,452.6 L899.9,449.3 L901.2,445.8 L902.6,442.4 L904.0,438.9 L905.3,435.5 L906.7,432.2 L908.1,429.0 L909.4,426.1 L910.8,423.5 L912.1,421.1 L913.5,419.0 L914.9,417.2 L916.2,415.6 L917.6,414.3 L919.0,413.3 L920.3,412.4 L921.7,411.8 L923.0,411.4 L924.4,411.2 L925.8,411.2 L927.1,411.4 L928.5,411.8 L929.9,412.3 L931.2,413.0 L932.6,413.9 L933.9,415.0 L935.3,416.2 L936.7,417.7 L938.0,419.4 L939.4,421.3 L940.7,423.5 L942.1,425.9 L943.5,428.7 L944.8,431.9 L946.2,435.5 L947.6,439.6 L948.9,444.2 L950.3,449.3 L951.6,455.0 L953.0,461.2 L954.4,467.7 L955.7,474.5 L957.1,481.2 L958.5,487.9 L959.8,494.3 L961.2,500.4 L962.5,506.2 L963.9,511.7 L965.3,516.9 L966.6,521.8 L968.0,526.4 L969.3,530.8 L970.7,534.9 L972.1,538.8 L973.4,542.3 L974.8,545.6 L976.2,548.5 L977.5,551.2 L978.9,553.6 L980.2,555.7 L981.6,557.6 L983.0,559.3 L984.3,560.9 L985.7,562.2 L987.1,563.4 L988.4,564.5 L989.8,565.5 L991.1,566.4 L992.5,567.2 L993.9,567.9 L995.2,568.5 L996.6,569.0 L998.0,569.5 L999.3,569.9 L1000.7,570.3 L1002.0,570.6 L1003.4,570.9 L1004.8,571.1 L1006.1,571.3 L1007.5,571.5 L1008.8,571.7 L1010.2,571.9 L1011.6,572.0 L1012.9,572.1 L1014.3,572.3 L1015.7,572.4 L1017.0,572.5 L1018.4,572.6 L1019.7,572.8 L1021.1,572.9 L1022.5,573.0 L1023.8,573.1 L1025.2,573.2 L1026.6,573.3 L1027.9,573.4 L1029.3,573.5 L1030.6,573.6 L1032.0,573.7 L1033.4,573.8 L1034.7,573.9 L1036.1,573.9 L1037.4,574.0 L1038.8,574.1 L1040.2,574.2 L1041.5,574.2 L1042.9,574.3 L1044.3,574.4 L1045.6,574.5 L1047.0,574.5 L1048.3,574.6 L1049.7,574.7 L1051.1,574.7 L1052.4,574.8 L1053.8,574.8 L1055.2,574.9 L1056.5,574.9 L1057.9,575.0 L1059.2,575.1 L1060.6,575.1 L1062.0,575.2 L1063.3,575.2 L1064.7,575.3 L1066.1,575.3 L1067.4,575.4 L1068.8,575.4 L1070.1,575.4 L1071.5,575.5 L1072.9,575.5 L1074.2,575.6 L1075.6,575.6 L1076.9,575.7 L1078.3,575.7 L1079.7,575.7 L1081.0,575.8 L1082.4,575.8 L1083.8,575.8 L1085.1,575.9 L1086.5,575.9 L1087.8,576.0 L1089.2,576.0 L1090.6,576.0 L1091.9,576.1 L1093.3,576.1 L1094.7,576.1 L1096.0,576.2 L1097.4,576.2 L1098.7,576.2 L1100.1,576.2 L1101.5,576.3 L1102.8,576.3 L1104.2,576.3 L1105.5,576.4 L1106.9,576.4 L1108.3,576.4 L1109.6,576.5 L1111.0,576.5 L1112.4,576.5 L1113.7,576.5" stroke="#ac3e48" stroke-width="1.35" fill="none" stroke-linejoin="round"/>
<path d="M827.7,488.4 L829.1,488.3 L830.4,488.2 L831.8,488.0 L833.1,487.9 L834.5,487.7 L835.9,487.5 L837.2,487.2 L838.6,487.0 L840.0,486.7 L841.3,486.4 L842.7,486.1 L844.0,485.8 L845.4,485.5 L846.8,485.1 L848.1,484.7 L849.5,484.3 L850.9,483.9 L852.2,483.5 L853.6,483.1 L854.9,482.7 L856.3,482.3 L857.7,482.0 L859.0,481.7 L860.4,481.4 L861.8,481.2 L863.1,481.0 L864.5,480.8 L865.8,480.8 L867.2,480.7 L868.6,480.8 L869.9,480.9 L871.3,481.0 L872.6,481.2 L874.0,481.5 L875.4,481.7 L876.7,482.0 L878.1,482.2 L879.5,482.5 L880.8,482.7 L882.2,483.0 L883.5,483.1 L884.9,483.3 L886.3,483.3 L887.6,483.4 L889.0,483.4 L890.4,483.3 L891.7,483.2 L893.1,483.1 L894.4,483.0 L895.8,482.8 L897.2,482.6 L898.5,482.3 L899.9,482.1 L901.2,481.8 L902.6,481.5 L904.0,481.2 L905.3,480.9 L906.7,480.5 L908.1,480.1 L909.4,479.7 L910.8,479.2 L912.1,478.6 L913.5,477.9 L914.9,477.2 L916.2,476.3 L917.6,475.3 L919.0,474.3 L920.3,473.2 L921.7,472.1 L923.0,471.0 L924.4,469.9 L925.8,468.8 L927.1,467.8 L928.5,466.9 L929.9,466.1 L931.2,465.3 L932.6,464.5 L933.9,463.9 L935.3,463.3 L936.7,462.7 L938.0,462.2 L939.4,461.8 L940.7,461.4 L942.1,461.1 L943.5,460.8 L944.8,460.6 L946.2,460.5 L947.6,460.4 L948.9,460.4 L950.3,460.5 L951.6,460.8 L953.0,461.1 L954.4,461.5 L955.7,462.1 L957.1,462.8 L958.5,463.6 L959.8,464.6 L961.2,465.7 L962.5,467.0 L963.9,468.4 L965.3,470.0 L966.6,471.7 L968.0,473.6 L969.3,475.6 L970.7,477.6 L972.1,479.7 L973.4,481.7 L974.8,483.8 L976.2,485.9 L977.5,488.0 L978.9,490.2 L980.2,492.6 L981.6,495.0 L983.0,497.6 L984.3,500.3 L985.7,503.0 L987.1,505.8 L988.4,508.7 L989.8,511.5 L991.1,514.4 L992.5,517.2 L993.9,519.9 L995.2,522.6 L996.6,525.2 L998.0,527.7 L999.3,530.0 L1000.7,532.3 L1002.0,534.4 L1003.4,536.5 L1004.8,538.5 L1006.1,540.4 L1007.5,542.1 L1008.8,543.9 L1010.2,545.5 L1011.6,547.1 L1012.9,548.6 L1014.3,550.0 L1015.7,551.4 L1017.0,552.7 L1018.4,553.9 L1019.7,555.1 L1021.1,556.2 L1022.5,557.3 L1023.8,558.3 L1025.2,559.2 L1026.6,560.1 L1027.9,560.9 L1029.3,561.7 L1030.6,562.5 L1032.0,563.2 L1033.4,563.8 L1034.7,564.4 L1036.1,565.0 L1037.4,565.5 L1038.8,566.0 L1040.2,566.5 L1041.5,566.9 L1042.9,567.3 L1044.3,567.7 L1045.6,568.1 L1047.0,568.4 L1048.3,568.8 L1049.7,569.1 L1051.1,569.4 L1052.4,569.7 L1053.8,569.9 L1055.2,570.2 L1056.5,570.5 L1057.9,570.7 L1059.2,570.9 L1060.6,571.2 L1062.0,571.4 L1063.3,571.6 L1064.7,571.8 L1066.1,572.0 L1067.4,572.2 L1068.8,572.3 L1070.1,572.5 L1071.5,572.7 L1072.9,572.8 L1074.2,573.0 L1075.6,573.1 L1076.9,573.2 L1078.3,573.4 L1079.7,573.5 L1081.0,573.6 L1082.4,573.7 L1083.8,573.9 L1085.1,574.0 L1086.5,574.1 L1087.8,574.2 L1089.2,574.3 L1090.6,574.4 L1091.9,574.5 L1093.3,574.6 L1094.7,574.6 L1096.0,574.7 L1097.4,574.8 L1098.7,574.9 L1100.1,575.0 L1101.5,575.1 L1102.8,575.1 L1104.2,575.2 L1105.5,575.3 L1106.9,575.3 L1108.3,575.4 L1109.6,575.5 L1111.0,575.5 L1112.4,575.6 L1113.7,575.6" stroke="#2c3278" stroke-width="1.35" fill="none" stroke-linejoin="round"/>
<path d="M827.7,514.5 L829.1,515.0 L830.4,515.6 L831.8,516.3 L833.1,517.1 L834.5,517.9 L835.9,518.6 L837.2,519.3 L838.6,519.9 L840.0,520.5 L841.3,521.0 L842.7,521.3 L844.0,521.5 L845.4,521.6 L846.8,521.5 L848.1,521.2 L849.5,520.7 L850.9,520.1 L852.2,519.4 L853.6,518.6 L854.9,517.6 L856.3,516.7 L857.7,515.7 L859.0,514.6 L860.4,513.6 L861.8,512.6 L863.1,511.6 L864.5,510.6 L865.8,509.7 L867.2,508.8 L868.6,507.9 L869.9,507.0 L871.3,506.2 L872.6,505.5 L874.0,504.7 L875.4,504.1 L876.7,503.4 L878.1,502.7 L879.5,502.1 L880.8,501.4 L882.2,500.8 L883.5,500.1 L884.9,499.5 L886.3,498.9 L887.6,498.3 L889.0,497.7 L890.4,497.2 L891.7,496.7 L893.1,496.4 L894.4,496.1 L895.8,495.9 L897.2,495.8 L898.5,495.7 L899.9,495.7 L901.2,495.8 L902.6,495.9 L904.0,496.0 L905.3,496.1 L906.7,496.2 L908.1,496.3 L909.4,496.4 L910.8,496.5 L912.1,496.6 L913.5,496.7 L914.9,496.9 L916.2,497.2 L917.6,497.5 L919.0,497.8 L920.3,498.2 L921.7,498.7 L923.0,499.2 L924.4,499.7 L925.8,500.3 L927.1,500.9 L928.5,501.6 L929.9,502.3 L931.2,503.0 L932.6,503.7 L933.9,504.5 L935.3,505.3 L936.7,506.1 L938.0,506.9 L939.4,507.7 L940.7,508.5 L942.1,509.3 L943.5,510.2 L944.8,511.0 L946.2,511.9 L947.6,512.7 L948.9,513.6 L950.3,514.4 L951.6,515.3 L953.0,516.1 L954.4,517.0 L955.7,517.8 L957.1,518.7 L958.5,519.6 L959.8,520.5 L961.2,521.3 L962.5,522.2 L963.9,523.2 L965.3,524.1 L966.6,525.0 L968.0,526.0 L969.3,527.0 L970.7,527.9 L972.1,529.0 L973.4,530.0 L974.8,531.0 L976.2,532.1 L977.5,533.2 L978.9,534.3 L980.2,535.4 L981.6,536.5 L983.0,537.6 L984.3,538.8 L985.7,539.9 L987.1,541.0 L988.4,542.1 L989.8,543.2 L991.1,544.3 L992.5,545.3 L993.9,546.4 L995.2,547.4 L996.6,548.4 L998.0,549.4 L999.3,550.3 L1000.7,551.2 L1002.0,552.1 L1003.4,553.0 L1004.8,553.9 L1006.1,554.7 L1007.5,555.5 L1008.8,556.3 L1010.2,557.1 L1011.6,557.8 L1012.9,558.5 L1014.3,559.2 L1015.7,559.9 L1017.0,560.6 L1018.4,561.3 L1019.7,561.9 L1021.1,562.5 L1022.5,563.1 L1023.8,563.7 L1025.2,564.3 L1026.6,564.8 L1027.9,565.4 L1029.3,565.9 L1030.6,566.4 L1032.0,566.8 L1033.4,567.3 L1034.7,567.8 L1036.1,568.2 L1037.4,568.6 L1038.8,569.0 L1040.2,569.4 L1041.5,569.7 L1042.9,570.1 L1044.3,570.4 L1045.6,570.7 L1047.0,571.0 L1048.3,571.2 L1049.7,571.5 L1051.1,571.7 L1052.4,572.0 L1053.8,572.2 L1055.2,572.4 L1056.5,572.6 L1057.9,572.8 L1059.2,573.0 L1060.6,573.1 L1062.0,573.3 L1063.3,573.4 L1064.7,573.6 L1066.1,573.7 L1067.4,573.8 L1068.8,573.9 L1070.1,574.1 L1071.5,574.2 L1072.9,574.3 L1074.2,574.4 L1075.6,574.5 L1076.9,574.6 L1078.3,574.7 L1079.7,574.8 L1081.0,574.9 L1082.4,574.9 L1083.8,575.0 L1085.1,575.1 L1086.5,575.2 L1087.8,575.3 L1089.2,575.3 L1090.6,575.4 L1091.9,575.5 L1093.3,575.6 L1094.7,575.6 L1096.0,575.7 L1097.4,575.8 L1098.7,575.8 L1100.1,575.9 L1101.5,575.9 L1102.8,576.0 L1104.2,576.1 L1105.5,576.1 L1106.9,576.2 L1108.3,576.2 L1109.6,576.3 L1111.0,576.3 L1112.4,576.4 L1113.7,576.4" stroke="#262626" stroke-width="1.35" fill="none" stroke-linejoin="round"/>
<path d="M827.70,364.60 V577.40 H1113.72" stroke="#3a3a3a" stroke-width="1.25" fill="none"/>
<path d="M827.70,577.40 H823.20" stroke="#3a3a3a" stroke-width="1.1"/>
<text x="0" y="0" font-size="9.6" text-anchor="end" fill="#2a2a2a" transform="translate(820.90,579.70) scale(0.83,1)">0,0</text>
<path d="M827.70,556.12 H825.20" stroke="#3a3a3a" stroke-width="1.1"/>
<path d="M827.70,534.84 H823.20" stroke="#3a3a3a" stroke-width="1.1"/>
<text x="0" y="0" font-size="9.6" text-anchor="end" fill="#2a2a2a" transform="translate(820.90,537.14) scale(0.83,1)">0,1</text>
<path d="M827.70,513.56 H825.20" stroke="#3a3a3a" stroke-width="1.1"/>
<path d="M827.70,492.28 H823.20" stroke="#3a3a3a" stroke-width="1.1"/>
<text x="0" y="0" font-size="9.6" text-anchor="end" fill="#2a2a2a" transform="translate(820.90,494.58) scale(0.83,1)">0,2</text>
<path d="M827.70,471.00 H825.20" stroke="#3a3a3a" stroke-width="1.1"/>
<path d="M827.70,449.72 H823.20" stroke="#3a3a3a" stroke-width="1.1"/>
<text x="0" y="0" font-size="9.6" text-anchor="end" fill="#2a2a2a" transform="translate(820.90,452.02) scale(0.83,1)">0,3</text>
<path d="M827.70,428.44 H825.20" stroke="#3a3a3a" stroke-width="1.1"/>
<path d="M827.70,407.16 H823.20" stroke="#3a3a3a" stroke-width="1.1"/>
<text x="0" y="0" font-size="9.6" text-anchor="end" fill="#2a2a2a" transform="translate(820.90,409.46) scale(0.83,1)">0,4</text>
<path d="M827.70,385.88 H825.20" stroke="#3a3a3a" stroke-width="1.1"/>
<path d="M827.70,364.60 H823.20" stroke="#3a3a3a" stroke-width="1.1"/>
<text x="0" y="0" font-size="9.6" text-anchor="end" fill="#2a2a2a" transform="translate(820.90,366.90) scale(0.83,1)">0,5</text>
<path d="M841.32,577.40 V581.90" stroke="#3a3a3a" stroke-width="1.1"/>
<text x="0" y="0" font-size="10" text-anchor="middle" fill="#2a2a2a" transform="translate(841.32,591.60) scale(0.8,1)">300</text>
<path d="M909.42,577.40 V579.90" stroke="#3a3a3a" stroke-width="1.1"/>
<path d="M977.52,577.40 V581.90" stroke="#3a3a3a" stroke-width="1.1"/>
<text x="0" y="0" font-size="10" text-anchor="middle" fill="#2a2a2a" transform="translate(977.52,591.60) scale(0.8,1)">400</text>
<path d="M1045.62,577.40 V579.90" stroke="#3a3a3a" stroke-width="1.1"/>
<path d="M1113.72,577.40 V581.90" stroke="#3a3a3a" stroke-width="1.1"/>
<text x="0" y="0" font-size="10" text-anchor="middle" fill="#2a2a2a" transform="translate(1113.72,591.60) scale(0.8,1)">500</text>
<text x="970.71" y="607.90" font-size="10.4" text-anchor="middle" fill="#222">Wavelength (nm)</text>
<text x="0" y="0" font-size="10.3" text-anchor="middle" fill="#222" transform="translate(793.70,472.00) rotate(-90)">Absorbance</text>
<text x="138.70" y="17.60" font-size="17.5" fill="#111">0 days</text>
<text x="531.40" y="19.80" font-size="17.5" fill="#111">7 days</text>
<text x="133.80" y="359.80" font-size="17.5" fill="#111">14 days</text>
<text x="522.60" y="363.40" font-size="17.5" fill="#111">21 days</text>
<text x="892.90" y="361.10" font-size="17.5" fill="#111">28 days</text>
<rect x="785.5" y="30.5" width="256" height="208" fill="none" stroke="#555" stroke-width="1"/>
<path d="M809,56.00 H863" stroke="#111111" stroke-width="2.8"/>
<text x="869" y="63.50" font-size="23.4" fill="#1a1a1a">Arufil</text>
<path d="M809,84.20 H863" stroke="#c8343e" stroke-width="2.8"/>
<text x="869" y="91.70" font-size="23.4" fill="#1a1a1a">DMSO</text>
<path d="M809,112.40 H863" stroke="#5cbc4c" stroke-width="2.8"/>
<text x="869" y="119.90" font-size="23.4" fill="#1a1a1a">Hypromelóza-P</text>
<path d="M809,140.60 H863" stroke="#262680" stroke-width="2.8"/>
<text x="869" y="148.10" font-size="23.4" fill="#1a1a1a">Ocutein</text>
<path d="M809,168.80 H863" stroke="#5cc4d8" stroke-width="2.8"/>
<text x="869" y="176.30" font-size="23.4" fill="#1a1a1a">Refresh</text>
<path d="M809,197.00 H863" stroke="#a03c9c" stroke-width="2.8"/>
<text x="869" y="204.50" font-size="23.4" fill="#1a1a1a">Water</text>
<path d="M809,225.20 H863" stroke="#f0e44c" stroke-width="2.8"/>
<text x="869" y="232.70" font-size="23.4" fill="#1a1a1a">Saline</text>
</svg>
</body></html>
